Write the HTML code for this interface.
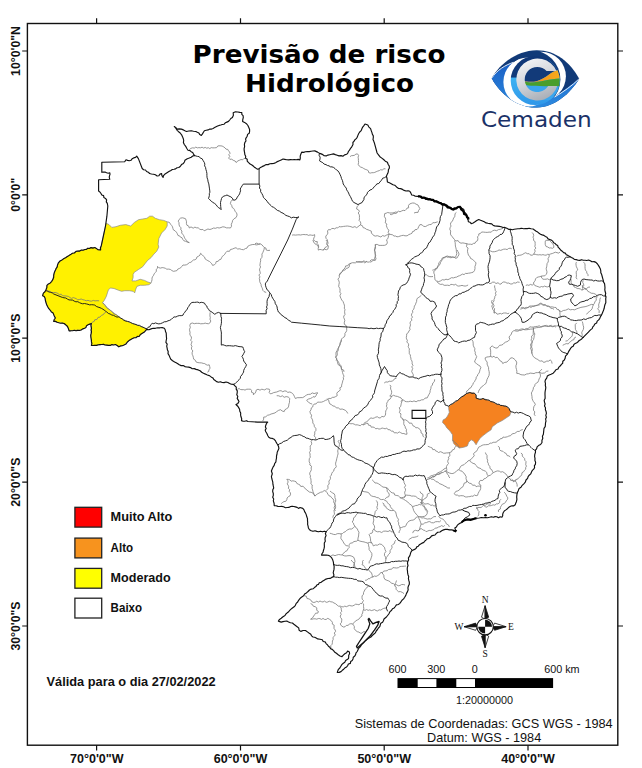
<!DOCTYPE html><html><head><meta charset="utf-8"><title>Previsão de risco Hidrológico</title>
<style>html,body{margin:0;padding:0;background:#fff;}svg{display:block;}</style></head><body>
<svg width="642" height="768" viewBox="0 0 642 768">
<rect width="642" height="768" fill="#fff"/>
<path d="M42.6 295.7 L43.4 293.1 L46.0 289.7 L46.9 285.4 L50.3 282.9 L52.9 279.4 L53.7 275.1 L55.5 270.0 L57.5 265.0 L60.0 261.0 L64.0 258.5 L68.6 255.8 L72.4 253.3 L78.0 251.0 L84.8 249.5 L91.0 247.6 L94.8 247.5 L97.8 249.6 L100.6 249.9 L101.3 245.7 L103.4 235.8 L105.5 226.0 L106.9 216.2 L107.8 206.0 L107.3 203.4 L105.5 198.4 L101.0 193.5 L98.6 191.0 L98.6 179.8 L109.8 179.3 L109.8 172.8 L101.8 172.3 L101.8 162.3 L124.7 161.8 L126.0 159.8 L131.0 160.3 L136.7 156.1 L138.4 158.6 L142.2 168.5 L149.6 173.5 L157.1 176.0 L161.6 173.5 L163.1 177.4 L164.7 174.3 L167.0 172.8 L170.9 170.4 L175.6 168.9 L180.2 166.5 L183.4 163.4 L184.9 160.3 L187.3 158.7 L191.2 157.2 L194.6 155.6 L192.7 152.5 L188.0 150.2 L185.7 146.3 L183.4 142.4 L182.6 136.9 L180.2 133.0 L176.0 128.5 L174.3 126.5 L177.1 129.1 L183.4 129.9 L186.5 131.5 L191.2 130.7 L195.8 131.5 L201.3 135.4 L204.4 130.7 L209.8 129.1 L216.1 126.8 L222.3 124.5 L228.5 121.4 L232.4 117.5 L233.2 112.8 L237.9 112.0 L241.8 112.5 L243.3 117.5 L242.6 121.4 L246.4 123.7 L248.8 127.6 L249.6 131.5 L247.2 136.2 L244.9 142.4 L244.1 148.6 L244.9 154.8 L247.2 161.1 L251.9 165.0 L255.8 168.1 L258.9 168.9 L262.5 166.4 L266.2 164.6 L271.8 163.6 L275.6 162.7 L279.3 160.8 L283.0 159.0 L288.6 159.9 L294.3 159.5 L299.9 159.9 L300.8 154.3 L301.7 152.1 L307.3 151.5 L314.8 150.9 L317.6 152.1 L319.5 153.4 L324.2 155.8 L329.8 154.7 L333.5 153.9 L337.2 155.2 L342.9 156.2 L346.6 154.3 L350.3 148.7 L354.1 141.2 L357.8 135.6 L361.2 130.6 L365.0 124.0 L367.8 125.0 L370.6 128.7 L372.4 134.3 L374.3 142.7 L377.1 153.0 L379.9 156.7 L383.6 159.5 L387.4 162.3 L389.3 166.1 L388.3 171.7 L386.4 176.4 L387.4 182.0 L393.0 184.8 L398.6 188.5 L404.2 190.4 L409.8 191.3 L411.7 195.0 L417.3 196.4 L424.8 197.9 L432.2 199.7 L439.7 202.5 L447.2 205.3 L453.7 210.0 L457.5 207.2 L460.3 206.3 L462.8 208.7 L466.5 214.3 L468.4 221.8 L471.2 223.6 L475.0 221.8 L478.7 219.5 L484.3 221.8 L489.9 223.6 L494.6 225.9 L499.3 226.4 L504.9 227.4 L508.6 229.3 L514.2 229.3 L521.7 228.3 L529.2 228.3 L534.8 230.2 L542.2 234.9 L549.7 239.5 L555.2 243.5 L559.4 248.4 L563.6 252.6 L567.9 255.4 L571.4 257.5 L576.3 259.6 L583.3 260.3 L590.3 260.7 L595.9 262.4 L598.7 265.9 L600.8 270.8 L602.2 276.5 L603.6 282.1 L605.0 287.7 L605.7 293.3 L605.7 298.9 L605.0 304.5 L603.6 310.1 L601.5 315.0 L598.7 319.9 L594.0 325.6 L588.4 332.1 L581.9 338.7 L575.3 343.4 L569.7 349.9 L566.9 354.6 L564.1 360.2 L560.4 365.8 L554.8 371.4 L551.0 374.2 L547.3 376.1 L545.4 379.8 L545.8 387.3 L545.0 394.8 L544.5 402.2 L545.4 409.7 L546.4 417.2 L545.4 424.7 L543.6 432.1 L542.4 436.2 L542.0 442.5 L538.5 445.6 L535.4 450.2 L534.6 456.5 L535.4 464.3 L533.9 468.9 L531.5 472.1 L529.2 475.2 L527.6 478.3 L525.3 482.2 L522.2 485.3 L519.1 488.4 L517.5 492.3 L516.7 497.0 L516.4 501.7 L515.2 504.8 L510.5 506.3 L507.4 508.7 L504.3 511.0 L502.7 514.1 L501.9 517.2 L493.4 517.2 L485.6 517.5 L479.3 518.0 L473.1 518.8 L467.9 519.0 L464.1 520.5 L462.2 522.3 L458.5 524.2 L454.8 527.9 L455.7 530.7 L452.0 529.8 L447.3 529.4 L441.7 530.7 L436.1 533.6 L430.5 537.3 L424.9 541.0 L419.3 544.8 L414.6 549.4 L412.1 550.5 L410.3 554.2 L408.4 557.9 L407.5 563.6 L407.5 571.0 L408.4 578.5 L409.3 582.2 L408.4 586.0 L407.5 591.6 L404.7 597.2 L400.9 601.9 L395.3 606.5 L391.6 610.3 L388.8 614.0 L386.4 617.0 L384.0 619.0 L380.3 624.9 L377.5 629.5 L373.7 634.2 L369.1 637.9 L365.3 640.7 L361.6 644.5 L358.8 648.2 L356.0 652.9 L352.2 660.4 L346.6 666.9 L341.0 671.6 L337.3 672.5 L338.2 669.7 L341.0 666.0 L344.8 662.2 L348.5 658.5 L349.4 652.0 L347.6 651.0 L344.8 653.8 L342.0 656.6 L338.2 654.8 L334.5 652.0 L329.8 647.3 L326.1 643.6 L322.3 639.8 L317.7 638.9 L313.0 637.0 L309.3 633.3 L305.5 630.5 L300.8 631.4 L297.1 626.7 L292.4 623.0 L286.8 621.1 L281.2 622.1 L278.4 621.1 L281.2 618.3 L285.0 615.5 L288.7 611.8 L292.4 608.0 L296.2 603.4 L299.9 598.7 L304.6 594.0 L309.5 590.0 L313.1 588.8 L316.8 585.0 L322.4 581.3 L328.0 578.5 L333.6 576.6 L333.6 571.0 L333.6 564.5 L332.7 559.8 L329.9 556.1 L326.2 555.1 L321.5 555.1 L323.4 550.5 L324.3 544.9 L325.2 537.4 L326.2 531.8 L322.4 531.8 L316.8 531.4 L311.2 530.8 L308.4 528.0 L307.5 520.6 L305.6 513.1 L302.8 508.4 L300.0 507.5 L298.5 508.4 L293.8 506.5 L287.3 507.5 L279.8 506.5 L274.2 505.6 L273.3 500.9 L273.3 493.5 L273.3 486.0 L272.3 480.4 L271.4 476.6 L272.3 473.8 L271.4 471.0 L274.2 465.4 L276.1 459.8 L277.0 454.2 L278.9 448.6 L277.9 444.9 L276.1 442.1 L274.2 439.3 L270.5 438.3 L267.7 435.5 L265.8 431.8 L265.8 425.2 L267.7 422.1 L257.4 422.1 L248.0 421.5 L241.5 420.6 L240.6 415.0 L239.6 409.3 L238.0 406.5 L236.0 404.5 L239.0 401.5 L237.2 398.4 L237.2 392.8 L236.3 387.2 L233.5 384.4 L227.9 382.5 L222.2 382.5 L216.6 381.6 L212.9 377.9 L207.3 375.0 L201.7 372.2 L196.1 369.4 L190.5 367.6 L184.9 366.6 L179.3 364.8 L174.6 362.0 L170.8 359.2 L168.0 353.6 L167.1 347.9 L166.2 340.5 L166.2 333.0 L164.3 328.3 L160.0 327.8 L155.4 328.3 L151.1 328.9 L146.7 329.4 L142.3 333.3 L139.1 336.5 L134.2 337.7 L130.8 339.4 L127.4 342.0 L124.0 345.0 L118.8 346.8 L115.4 344.5 L108.5 345.4 L101.7 344.5 L96.5 345.4 L91.4 345.4 L91.1 338.5 L91.1 330.0 L91.4 323.5 L88.0 324.8 L84.6 328.3 L81.1 330.0 L74.3 330.3 L69.1 330.8 L68.3 328.3 L65.7 324.8 L62.3 323.1 L57.1 322.3 L53.7 321.4 L55.4 318.0 L52.9 312.8 L50.3 310.3 L47.7 306.8 L46.0 302.6 L45.1 298.3 Z" fill="#fff" stroke="none"/>
<path d="M106.2 223.2 L109.0 224.6 L111.8 227.4 L116.0 226.7 L120.2 225.3 L125.8 224.6 L130.7 226.0 L134.3 222.5 L138.5 219.7 L142.7 219.0 L146.9 218.3 L149.7 216.2 L152.5 216.2 L155.3 218.3 L159.5 219.7 L163.7 220.4 L167.2 221.8 L167.2 226.0 L165.1 229.5 L161.6 233.0 L158.8 238.6 L158.1 244.3 L158.8 247.1 L156.7 251.3 L153.9 254.1 L151.1 257.6 L147.6 260.4 L144.8 263.9 L142.7 266.7 L138.5 269.5 L134.3 272.3 L133.1 274.4 L133.1 277.6 L132.0 280.9 L135.8 280.9 L140.2 279.3 L144.5 280.4 L147.8 282.0 L151.1 283.1 L148.9 284.7 L144.5 285.3 L140.2 285.3 L136.9 286.4 L135.8 289.1 L134.7 292.9 L133.1 291.3 L129.3 290.7 L124.9 290.7 L121.6 291.3 L118.4 290.2 L114.0 288.5 L110.7 288.0 L108.5 289.6 L107.4 292.9 L106.4 296.2 L104.2 300.5 L102.5 302.7 L106.4 307.1 L111.8 311.4 L116.2 314.7 L118.4 316.3 L120.5 318.0 L127.4 321.4 L134.2 324.0 L141.1 326.5 L146.7 328.9 L146.7 329.4 L142.3 333.3 L139.1 336.5 L134.2 337.7 L130.8 339.4 L127.4 342.0 L124.0 345.0 L118.8 346.8 L115.4 344.5 L108.5 345.4 L101.7 344.5 L96.5 345.4 L91.4 345.4 L91.1 338.5 L91.1 330.0 L91.4 323.5 L88.0 324.8 L84.6 328.3 L81.1 330.0 L74.3 330.3 L69.1 330.8 L68.3 328.3 L65.7 324.8 L62.3 323.1 L57.1 322.3 L53.7 321.4 L55.4 318.0 L52.9 312.8 L50.3 310.3 L47.7 306.8 L46.0 302.6 L45.1 298.3 L42.6 295.7 L43.4 293.1 L46.0 289.7 L46.9 285.4 L50.3 282.9 L52.9 279.4 L53.7 275.1 L55.5 270.0 L57.5 265.0 L60.0 261.0 L64.0 258.5 L68.6 255.8 L72.4 253.3 L78.0 251.0 L84.8 249.5 L91.0 247.6 L94.8 247.5 L97.8 249.6 L100.6 249.9 L101.3 245.7 L103.4 235.8 L105.5 226.0 Z" fill="#fff100" stroke="#8c8c8c" stroke-width="0.7" stroke-linejoin="round"/>
<path d="M448.7 406.2 L452.5 403.7 L457.4 400.6 L461.8 396.8 L466.2 393.7 L469.9 392.5 L474.3 393.1 L476.1 395.0 L476.1 398.1 L479.9 399.3 L483.0 398.4 L487.4 399.9 L492.3 401.8 L497.3 404.3 L502.3 405.5 L506.0 406.2 L509.2 408.7 L511.0 411.8 L509.8 415.5 L506.0 418.0 L502.3 420.5 L497.3 423.0 L494.8 424.9 L492.3 426.7 L491.1 429.8 L487.4 432.3 L482.4 436.1 L479.9 438.6 L477.4 442.3 L476.1 444.8 L473.6 441.1 L471.2 439.8 L468.7 442.3 L467.4 446.0 L463.7 447.3 L459.9 447.9 L456.2 446.0 L453.7 443.6 L452.5 439.8 L452.5 434.8 L450.0 431.1 L446.9 428.0 L445.0 424.9 L442.5 422.4 L443.1 419.9 L445.6 418.6 L447.5 416.1 L449.3 412.4 L448.7 408.7 Z" fill="#f58220" stroke="#8c8c8c" stroke-width="0.7" stroke-linejoin="round"/>
<path d="M188.0 151.0 L189.4 149.7 L190.8 148.4 L192.7 147.8 L194.3 148.1 L195.8 147.1 L197.4 147.9 L198.9 147.6 L200.5 147.8 L202.1 147.2 L203.6 148.1 L205.2 147.4 L206.7 148.2 L208.3 147.7 L209.8 148.6 L211.2 147.6 L212.9 147.9 L214.5 147.8 L216.5 147.7 L217.9 145.9 L220.0 145.8 L222.1 146.0 L223.9 147.0 L225.1 148.0 L226.1 149.2 L227.8 149.4 L228.5 150.8 L229.5 151.9 L230.1 153.3 L228.8 154.6 L229.8 156.7 L228.5 158.0 L229.8 159.3 L231.8 159.2 L233.2 160.3 L235.1 161.0 L236.3 162.6 L237.5 161.0 L239.3 160.3 L241.0 159.5 L242.7 159.8 L244.0 158.4 L245.7 158.7 M210.1 312.4 L210.0 314.1 L209.9 315.8 L210.3 317.5 L210.0 319.3 L210.8 321.0 L210.1 322.7 L208.6 323.7 L206.9 323.6 L205.2 323.1 L203.6 323.6 L202.1 323.7 L200.6 323.8 L199.1 323.3 L197.6 323.4 L196.1 323.3 L194.3 323.7 L192.3 323.0 L190.5 323.6 L189.8 325.4 L190.3 327.5 L189.5 329.3 L189.7 330.9 L190.1 332.4 L189.8 334.1 L190.4 335.6 L191.4 337.0 L191.4 338.6 L190.6 340.2 L192.0 341.7 L191.5 343.2 L191.0 344.8 L192.0 346.3 L191.4 347.9 L191.7 349.5 L192.8 350.9 L192.1 352.7 L192.2 354.3 L192.9 355.8 L193.3 357.3 L193.7 359.2 L195.4 360.3 L196.1 362.0 L197.9 362.6 L199.8 362.8 L201.7 362.9 L203.2 363.4 L204.7 363.6 L206.1 364.6 L207.5 365.2 L209.2 364.8 L209.7 366.6 L210.1 368.5 L208.9 369.6 L208.8 371.4 L207.3 372.2 M47.0 290.2 L48.5 291.0 L50.1 291.4 L51.6 292.4 L53.2 292.6 L55.0 292.5 L56.6 292.8 L58.0 293.6 L59.3 294.6 L61.2 294.2 L62.3 295.6 L63.9 295.9 L65.5 295.9 L67.1 296.2 L68.6 296.5 L70.0 297.6 L71.5 298.4 L73.3 297.6 L74.8 298.1 L76.3 298.7 L77.7 299.8 L79.4 299.5 L81.2 299.0 L82.8 299.7 L84.6 300.1 L86.2 300.8 L88.0 300.3 L89.7 301.0 L91.4 301.2 L93.3 300.4 L95.0 300.9 L97.0 300.7 L99.1 300.8 M91.4 323.5 L92.4 322.1 L94.2 321.4 L94.8 319.7 L96.9 319.5 L98.0 317.4 L100.0 317.1 L101.4 315.4 L103.4 314.6 L104.4 313.0 L106.0 312.0 M350.0 156.7 L351.3 155.7 L353.0 155.6 L354.6 155.2 L355.9 154.1 L357.5 153.9 L358.6 155.4 L358.1 157.2 L358.4 158.8 L358.4 160.5 L358.6 162.4 L358.2 164.4 L359.3 166.1 L360.7 167.1 L362.3 167.6 L363.7 168.5 L365.2 169.3 L366.8 169.8 L368.4 170.8 L368.7 172.6 L370.3 173.1 L371.8 172.7 L373.3 172.7 L374.8 172.4 L376.2 171.7 L377.7 171.1 L379.3 170.6 L380.7 169.7 L382.5 170.1 L383.7 168.7 L385.5 168.9 M167.5 221.8 L169.5 222.5 L170.6 224.3 L171.7 225.5 L172.5 226.8 L172.9 228.4 L173.4 229.9 L175.1 230.8 L176.4 232.2 L177.3 233.7 L178.0 235.5 L179.6 235.9 L180.5 237.2 L182.0 237.7 L182.7 239.3 L183.9 240.8 L185.7 241.3 L187.4 242.1 L189.3 242.6 M189.3 242.6 L187.5 241.9 L186.4 240.2 L185.1 238.8 L184.3 237.2 L183.6 235.5 L182.7 234.2 L181.6 233.0 L182.0 231.0 L180.8 229.9 L181.0 227.8 L179.5 226.2 L179.0 224.3 L179.0 222.7 L178.3 221.2 L179.0 219.6 L180.6 218.1 L182.7 217.8 L185.5 218.7 L186.1 220.2 L186.5 221.8 L186.4 223.4 L186.9 225.2 L188.8 226.2 L189.3 228.0 L191.0 226.9 L193.2 228.2 L194.9 227.1 L196.4 227.8 L198.2 227.8 L199.5 229.0 L201.0 229.7 L202.9 229.4 L204.2 230.8 L206.1 229.9 L207.9 229.0 L209.9 229.5 L211.8 228.9 L213.6 228.0 L215.5 228.3 L217.3 227.6 L219.2 228.0 L221.0 227.5 L222.8 226.8 L224.8 227.1 L226.6 227.9 L228.5 227.8 L230.4 228.0 L231.5 226.3 L231.3 224.2 L232.2 222.4 L232.7 220.3 L234.1 218.7 L235.9 217.7 L236.9 215.9 L237.0 214.0 L236.2 212.5 L235.0 211.2 L234.5 209.7 L233.6 208.4 L232.2 207.5 L231.7 205.4 L230.4 203.7 L230.9 201.6 L232.2 200.0 L233.2 200.0 M151.0 282.9 L151.6 281.4 L152.0 279.8 L152.0 278.1 L152.6 276.6 L153.6 275.3 L154.2 273.7 L155.4 272.5 L156.4 271.2 L156.2 269.4 L157.6 268.2 L157.5 266.4 L158.8 267.7 L160.4 268.1 L162.2 267.6 L163.8 267.8 L165.4 268.3 L166.8 269.2 L168.6 269.1 L170.3 269.4 L171.8 270.5 L173.4 271.3 L175.2 271.0 L176.9 270.6 L177.8 269.1 L179.3 268.5 L180.8 267.7 L181.8 266.4 L183.0 265.0 L184.9 265.1 L186.6 264.7 L188.0 263.8 L189.3 262.6 L190.9 262.3 L192.1 261.2 L193.3 260.0 L194.9 259.8 L196.4 258.8 L196.9 257.0 L198.6 256.2 L200.0 255.1 L200.5 253.3 L202.0 254.6 L203.3 256.1 L204.6 257.1 L205.1 258.9 L206.5 259.8 L207.9 260.7 L209.5 261.5 L210.7 262.6 L211.8 263.8 L212.6 265.4 L214.4 264.8 L215.6 263.6 L216.2 261.6 L218.2 261.3 L219.2 259.8 L220.9 259.3 L221.6 257.7 L222.4 256.3 L223.7 255.4 L224.8 254.2 L225.8 252.5 L227.1 251.2 L229.5 251.3 L230.4 249.5 L232.3 249.1 L234.1 248.3 L236.0 247.7 L237.6 249.0 L239.8 248.8 L241.6 249.5 L243.6 249.7 L245.3 248.6 L247.0 248.1 L247.8 246.3 L249.3 245.5 L250.9 244.9 L252.8 244.5 L254.6 244.5 L256.5 244.9 L258.4 244.5 L260.3 243.9 L261.9 244.8 L263.1 246.2 L264.3 247.5 L265.9 248.0 L266.2 250.0 L267.8 250.5 L270.0 250.3 M264.3 247.5 L264.1 249.3 L263.5 250.9 L262.8 252.6 L261.9 254.1 L262.1 256.0 L261.8 257.6 L260.5 259.0 L260.7 260.8 L260.3 262.4 L260.1 263.9 L259.9 265.4 L260.6 267.0 L259.8 268.4 L259.5 269.9 L260.0 271.6 L260.3 273.4 L258.9 275.0 L259.9 276.8 L259.3 278.5 L259.7 280.0 L259.7 281.6 L260.3 283.0 L261.1 284.4 L261.2 286.0 L261.9 287.4 L262.5 288.8 L262.9 290.4 L264.0 291.6 L266.2 292.5 M255.0 243.7 L256.8 243.1 L258.5 243.9 L260.3 243.9 M102.5 302.7 L104.1 303.9 L105.4 305.4 L106.4 307.1 L107.5 308.5 L109.1 309.3 L110.4 310.4 L111.8 311.4 L113.0 312.9 L114.3 314.2 L116.2 314.7 L118.4 316.3 M292.1 235.1 L293.8 234.9 L295.5 235.1 L297.3 234.9 L299.0 234.8 L300.7 235.0 L302.4 234.6 L303.9 234.5 L305.4 234.7 L307.0 234.6 L308.5 235.4 L310.0 234.9 L311.6 235.2 L313.1 235.4 L314.6 234.6 L314.7 236.4 L313.8 238.0 L313.6 239.8 L315.2 241.4 L317.4 241.7 L317.0 243.4 L318.4 245.0 L318.6 246.7 L318.2 248.4 L318.3 250.1 L319.9 249.4 L321.4 249.7 L323.0 250.1 L324.4 249.1 L326.2 249.8 L327.7 249.2 L328.2 247.7 L328.4 246.2 L327.1 244.7 L328.1 243.2 L327.7 241.7 L327.3 239.7 L325.9 238.2 L325.8 236.1 L327.1 234.7 L327.9 233.1 L327.5 231.0 L328.6 229.5 L330.3 229.9 L331.6 228.6 L333.1 228.4 L334.8 228.9 L336.1 227.7 L337.7 228.0 L339.0 226.6 L340.6 226.8 L342.1 226.7 L343.6 226.4 L345.5 226.2 L347.3 226.0 L349.2 226.3 L351.0 226.7 L352.8 227.4 L354.9 226.6 L356.6 227.7 L357.9 226.8 L359.1 225.8 L360.4 224.9 L362.4 225.7 L363.2 227.7 L364.9 228.1 L366.4 229.3 L368.1 229.8 L369.7 230.5 L371.3 231.1 L371.4 233.3 L372.7 234.2 L373.6 235.5 L375.3 236.1 L377.3 235.7 L379.1 236.3 L380.9 237.0 L382.5 235.6 L384.8 236.2 L386.5 235.1 L389.3 234.2 L391.0 234.5 L392.7 234.9 L394.0 236.1 L395.5 236.0 L397.0 236.8 L398.5 236.6 L400.0 236.1 L401.6 235.6 L403.3 235.3 L405.0 235.8 L407.1 235.8 L408.8 234.6 L410.6 233.9 L412.0 233.2 L412.6 231.5 L414.3 231.1 L415.1 229.6 L417.0 229.5 L418.0 228.3 L418.8 226.4 L419.9 224.6 L422.1 224.8 L423.6 226.4 L425.7 226.5 L427.5 225.4 L429.3 224.6 L431.3 224.5 L432.8 222.7 L434.9 222.7 L437.7 221.8 M358.5 205.2 L357.0 206.8 L356.6 209.0 L358.5 209.9 L359.4 211.3 L358.2 213.0 L359.1 214.4 L359.5 215.9 L359.4 217.4 L359.5 218.9 L359.1 220.5 L360.4 221.8 L360.8 223.3 L360.4 224.9 M389.3 234.2 L388.6 235.6 L388.3 237.2 L387.8 238.7 L386.5 239.8 L387.1 241.4 L387.3 242.9 L386.5 244.5 L384.7 245.3 L382.8 245.4 L380.9 245.4 L379.0 245.4 L377.2 244.4 L375.3 244.5 L375.4 246.4 L374.7 248.2 L374.4 250.1 L375.1 251.8 L375.0 253.5 L375.7 255.2 L375.4 256.9 L376.0 258.6 L375.3 260.4 L373.7 260.4 L372.3 261.0 L371.0 262.0 L369.4 261.9 L367.9 262.2 L366.3 261.5 L364.8 262.9 L363.2 261.7 L361.6 262.3 L360.1 262.2 L358.5 262.2 L356.9 261.8 L355.5 262.8 L354.0 262.8 L352.5 262.7 L351.0 263.2 L349.4 264.7 L349.2 266.9 L348.1 268.0 L346.3 268.3 L345.4 269.7 L343.8 270.4 L342.5 271.4 L341.3 272.7 L339.8 273.5 L339.4 275.4 L339.3 277.5 L337.9 279.1 L338.9 280.9 L339.3 282.7 L338.9 284.7 L338.7 286.6 L339.8 288.3 L340.1 290.2 L339.8 292.1 L340.9 293.5 L340.0 295.4 L340.3 297.0 L341.0 298.5 L341.7 300.0 L343.1 301.6 L343.8 303.6 L344.4 305.1 L344.5 306.7 L344.3 308.2 L345.0 309.7 L344.6 311.3 L344.7 312.9 L345.0 314.5 L343.8 316.0 L343.7 317.5 L344.4 319.1 L344.8 320.7 L344.3 322.2 L344.3 324.3 L346.1 325.5 L346.6 327.4 M384.7 213.6 L386.2 213.2 L387.7 212.5 L389.3 212.9 L390.9 213.0 L392.5 212.9 L394.0 212.7 L395.4 212.0 L397.0 212.3 L398.4 211.2 L400.0 211.8 L401.6 211.0 L403.2 210.3 L405.0 210.6 L406.1 209.5 L407.0 208.1 L408.7 207.8 L408.4 205.7 L409.6 204.0 L411.1 203.4 L412.6 203.0 L414.3 203.1 L416.1 204.2 L418.0 205.0 L418.9 206.9 L419.9 208.7 L418.6 210.4 L418.0 212.4 L416.0 212.4 L414.0 213.0 M384.7 213.6 L384.5 215.1 L384.4 216.7 L385.4 218.1 L385.7 219.6 L385.6 221.1 L385.2 222.8 L386.9 224.0 L386.4 225.7 L386.9 227.2 L387.5 228.6 L388.8 230.2 L388.2 232.5 L389.3 234.2 M390.0 214.3 L391.7 214.6 L393.1 213.7 L394.6 213.5 L396.1 213.3 L397.5 212.4 M370.0 260.9 L371.4 259.8 L373.1 259.9 L374.7 259.3 L374.7 257.8 L375.3 256.2 L375.2 254.7 L375.3 253.1 L374.8 251.6 L374.7 250.0 L375.6 248.2 L375.4 246.4 L375.3 244.5 M312.9 240.0 L313.6 242.0 L314.8 243.7 L316.4 244.6 L317.9 245.7 L318.6 247.5 M323.0 250.1 L324.2 249.3 L325.0 247.6 L326.5 246.7 L327.9 245.6 L326.6 243.9 L327.2 241.7 L326.0 240.0 M339.1 275.5 L340.1 274.2 L341.2 272.8 L342.1 271.4 L342.9 269.9 L344.2 269.0 L345.1 267.6 L345.7 265.9 L347.7 265.8 L348.5 264.3 L351.0 263.2 M355.9 261.5 L357.5 261.9 L359.1 261.5 L360.7 261.6 L362.3 261.8 L363.9 260.8 L365.5 261.9 L367.1 261.5 M346.6 327.4 L346.7 329.0 L346.7 330.6 L346.0 332.0 L344.9 333.4 L345.0 335.0 L344.5 336.7 L342.8 337.7 L341.5 339.0 L341.2 340.9 L340.3 342.4 L340.1 343.9 L339.6 345.4 L338.9 346.8 L338.3 348.3 L338.4 349.9 L337.7 351.3 L337.1 352.8 L337.4 354.7 L336.7 356.1 L335.6 357.4 L336.6 358.8 L336.3 360.5 L337.6 361.8 L337.7 363.4 L338.4 364.9 L340.0 365.8 L340.9 367.3 L341.5 368.9 L342.1 370.5 L342.5 372.5 L343.1 374.3 L344.0 376.1 L343.3 377.5 L343.6 379.2 L342.8 380.6 L342.5 382.1 L342.1 383.6 L341.6 385.1 L341.6 386.8 L339.8 387.8 L340.3 389.7 L339.3 391.0 L337.7 392.0 L336.8 393.4 L337.2 395.7 L335.6 396.6 L334.1 397.3 L332.3 397.4 L330.9 398.5 L328.8 398.4 L327.2 399.8 L325.3 400.4 L323.6 401.4 L321.7 402.1 L319.7 402.2 L317.6 402.1 L316.1 403.9 L314.1 404.1 L313.1 405.3 L312.7 407.0 L311.3 407.9 L311.0 409.8 L309.9 411.5 L310.4 413.5 L311.6 415.2 L311.1 417.4 L312.2 419.1 L312.8 421.0 L312.8 423.0 L314.1 424.7 L314.4 426.7 L315.8 428.3 L316.0 430.3 L314.7 431.9 L314.8 434.0 L314.1 435.9 L315.6 437.5 L315.5 439.6 M237.5 389.2 L239.1 388.5 L240.5 389.5 L242.0 389.7 L243.5 389.6 L245.0 390.1 L246.8 389.2 L248.7 389.2 L250.6 389.2 L251.6 390.5 L251.5 392.3 L253.5 393.0 L253.4 394.8 L254.7 393.5 L255.8 392.0 L256.2 390.1 L258.0 389.2 L260.0 390.2 L261.8 389.2 L263.3 389.6 L264.8 389.9 L266.3 388.8 L267.8 389.0 L269.3 389.2 L269.8 390.7 L269.1 392.4 L270.2 393.8 L271.9 393.5 L273.4 392.7 L275.0 392.3 L276.7 392.0 L278.1 391.4 L279.6 390.8 L281.1 390.7 L282.8 391.8 L284.2 391.0 L286.1 391.0 L287.8 392.4 L289.8 392.0 L291.3 392.6 L292.6 393.5 L293.6 394.8 L294.5 396.7 L295.4 398.5 L297.2 397.7 L299.1 397.7 L301.0 397.6 L302.7 397.6 L304.1 396.8 L305.4 396.0 L306.6 394.8 L308.5 394.4 L310.6 394.2 L312.2 392.9 L314.1 393.6 L316.0 393.0 L317.9 392.9 L316.6 394.1 L316.0 395.7 L314.9 397.1 L313.0 396.7 L311.8 397.9 L310.4 398.5 L308.3 399.1 L306.6 400.4 L308.5 402.2 L310.2 403.4 L312.2 404.1 M276.7 395.7 L278.7 395.8 L280.5 396.6 L282.4 395.8 L284.2 397.3 L286.1 396.6 L288.2 397.0 L289.8 398.5 L289.5 400.4 L289.5 402.3 L288.9 404.1 L288.7 406.1 L287.9 407.9 L286.4 408.8 L284.9 409.8 L284.2 411.6 L282.2 411.0 L280.5 409.7 L278.5 410.4 L276.7 411.6 L275.0 412.9 L273.0 413.5 L271.1 414.0 L269.3 414.9 L267.4 415.3 L265.8 416.8 L263.6 417.2 L263.7 419.2 L262.7 421.0 M327.2 398.5 L328.6 400.1 L329.1 402.2 L329.8 403.9 L331.6 404.7 L332.8 406.0 L334.8 406.2 L336.3 407.9 L338.4 407.9 L340.0 409.3 L342.2 409.0 L344.0 409.7 L345.7 410.5 L346.9 411.9 L347.8 413.5 M341.2 340.0 L341.2 341.8 L340.2 343.2 L340.0 344.9 L339.1 346.4 L338.5 347.9 L337.5 349.3 L337.0 350.8 L336.1 352.1 L335.9 353.7 L336.1 355.3 L335.6 356.8 L336.5 358.2 L337.0 359.8 L338.0 361.2 L338.8 362.7 L339.3 364.3 L340.9 365.4 L341.5 367.1 L341.4 369.2 L343.6 370.0 L344.0 371.8 M421.4 295.2 L420.2 296.3 L418.9 297.3 L417.4 298.2 L416.7 299.8 L416.6 301.5 L415.9 303.1 L415.4 304.7 L414.4 306.1 L414.2 307.7 L413.7 309.2 L412.5 310.6 L412.8 312.3 L411.8 313.7 L411.4 315.3 L412.5 317.1 L411.3 318.5 L411.9 320.2 L410.5 321.6 L410.0 323.1 L410.5 324.8 L410.1 326.4 L409.6 327.9 L410.1 329.7 L408.9 331.0 L408.3 332.6 L406.7 333.8 L406.6 335.7 L406.3 337.3 L406.5 338.9 L407.4 340.3 L406.8 342.0 L408.2 343.4 L408.7 344.9 L408.2 346.6 L408.5 347.5 L409.4 348.9 L409.2 350.5 L409.3 352.1 L409.3 353.7 L410.4 355.0 L410.4 356.6 L410.9 358.0 L411.0 359.5 L411.9 360.9 L412.2 362.4 L412.1 363.9 L413.0 365.4 L411.7 366.9 L412.7 368.4 L412.2 369.9 L411.7 371.6 L412.5 373.2 L413.3 374.7 L413.2 376.4 M384.2 383.0 L385.9 381.9 L387.9 382.1 L389.2 381.2 L390.8 381.4 L392.3 381.0 L393.6 380.2 L394.6 378.7 L396.4 378.3 M389.8 384.9 L390.9 386.2 L390.5 387.9 L390.8 389.4 L391.5 390.8 L391.7 392.3 L391.2 394.4 L389.8 396.1 L391.7 396.3 L393.5 395.3 L395.4 396.1 L397.4 396.4 L399.2 397.2 L401.0 397.9 L402.0 399.5 L403.7 400.0 L404.8 401.3 L406.6 401.7 L408.5 401.7 L410.3 401.2 L412.2 401.7 L414.0 400.9 L416.1 401.8 L417.9 400.7 L419.8 400.7 L421.6 399.8 L423.5 399.8 L425.0 398.1 L427.2 397.9 L428.1 396.0 L429.1 394.2 L430.0 392.4 L430.2 390.4 L430.9 388.6 L431.1 386.6 L432.4 385.0 L432.8 383.0 L434.4 381.5 L434.7 379.3 M391.7 396.1 L390.9 397.7 L390.0 399.2 L388.3 400.0 L387.7 401.7 L386.7 403.1 L386.8 404.7 L386.4 406.2 L387.2 407.8 L386.7 409.3 L385.8 410.8 L385.6 412.4 L385.6 414.0 L385.2 415.6 L383.9 416.8 L381.7 416.4 L380.5 417.9 L378.9 417.9 L377.5 416.8 L375.8 417.1 L374.4 417.9 L372.8 418.4 L371.0 417.9 L369.6 418.7 L368.3 420.5 L366.5 421.8 L364.4 422.8 L363.4 424.9 M349.3 423.4 L350.9 423.8 L352.6 423.6 L354.1 424.1 L355.6 424.9 L357.2 424.8 L358.7 425.2 L360.3 425.7 L361.8 424.3 L363.4 424.9 L364.9 424.2 L366.3 423.4 L368.0 423.4 L368.5 425.2 L370.6 425.5 L371.2 427.2 L373.0 427.0 L374.5 427.6 L375.8 428.8 L377.4 428.4 L379.0 429.1 L380.6 428.8 L382.1 428.0 L383.6 428.4 L385.2 428.8 L386.7 428.0 L387.9 429.6 L390.0 429.8 L391.4 431.1 L393.1 431.1 L394.3 432.9 L396.1 432.7 L397.6 433.1 L399.2 431.9 L400.7 432.7 L402.2 433.5 L403.9 433.5 L405.4 434.2 L407.0 434.2 M401.0 401.7 L402.3 400.0 L401.9 401.6 L401.3 403.2 L401.0 404.9 L400.6 406.6 L399.2 407.8 L399.9 409.3 L400.0 410.9 L399.3 412.6 L401.0 413.9 L400.7 415.6 L400.8 417.5 L402.7 418.5 L403.3 420.1 L403.9 421.8 L403.7 423.5 L404.1 425.0 L405.1 426.4 L405.4 428.0 L406.5 429.4 L406.2 431.1 L406.8 432.6 L407.0 434.2 M402.3 418.7 L403.5 420.1 L405.6 419.8 L407.1 420.8 L408.5 421.8 L409.4 423.3 L411.5 423.0 L412.4 424.5 L413.2 426.0 L414.8 426.5 L415.8 427.8 L417.7 427.7 L419.0 428.6 L420.2 429.6 L421.0 431.1 L421.1 433.0 L422.9 434.1 L422.9 436.0 L424.1 437.4 M312.1 440.0 L311.1 441.4 L311.7 443.2 L311.5 444.7 L310.1 446.0 L310.3 447.7 L310.2 449.3 L310.5 450.9 L309.5 452.4 L310.1 454.0 L310.0 455.6 L310.3 457.2 L309.3 458.7 L309.2 460.3 L309.2 461.9 L310.0 463.4 L309.8 465.0 L311.6 466.3 L311.1 468.0 L311.4 469.6 L310.8 471.1 L309.9 472.6 L309.7 474.2 L310.5 475.9 L310.2 477.4 L310.9 478.9 L311.0 480.5 L311.2 482.0 L310.8 483.7 L312.3 485.0 L312.1 486.7 L312.1 488.4 L312.6 489.9 L313.0 491.6 L313.5 493.1 L314.3 494.6 L314.9 496.1 L316.1 494.9 L317.5 493.9 L319.0 493.1 L320.5 492.3 L322.6 491.8 L324.2 490.5 L325.9 491.2 L327.0 492.6 L327.9 494.2 L328.9 495.7 L330.7 496.4 L331.7 497.9 L333.1 499.0 L333.8 500.4 L333.7 502.2 L334.5 503.6 L335.0 505.4 L334.1 507.4 L334.5 509.2 L335.4 511.0 M339.2 440.0 L338.2 441.5 L339.3 443.1 L339.4 444.7 L339.2 446.3 L338.4 447.8 L338.2 449.3 L337.7 450.8 L337.9 452.3 L338.1 453.9 L337.6 455.3 L337.3 456.8 L336.8 458.4 L336.5 460.0 L336.1 461.5 L335.6 463.1 L335.7 464.8 L336.3 466.5 L335.4 468.0 L334.0 469.1 L333.8 471.0 L332.5 472.1 L331.7 473.6 L331.3 475.2 L330.2 476.5 L330.5 478.3 L329.9 479.8 L328.9 481.1 L329.1 482.7 L329.1 484.2 L327.7 485.5 L328.0 487.1 L327.9 488.6 L326.1 490.5 M286.8 479.3 L288.4 479.4 L289.8 479.8 L291.1 481.2 L292.8 480.8 L294.3 481.1 L296.0 481.7 L296.8 483.4 L298.4 484.2 L299.9 484.9 L300.8 486.5 L303.1 486.2 L304.1 487.6 L305.5 488.6 L306.6 490.0 L308.0 490.9 L309.3 492.0 L311.1 492.3 L312.9 493.0 L313.9 494.6 L314.9 496.1 M286.8 479.3 L287.8 480.6 L288.1 482.1 L287.2 483.9 L288.2 485.3 L288.7 486.7 L288.4 488.4 L289.7 489.6 L289.2 491.4 L290.3 492.7 L290.6 494.2 L290.0 495.8 L288.3 496.7 L287.1 498.0 L286.8 499.8 L285.8 501.3 L283.9 501.6 L282.5 502.5 L281.2 503.6 M357.9 512.2 L357.2 513.9 L355.9 515.1 L355.2 516.8 L353.6 517.8 L353.4 520.1 L352.2 522.0 L353.5 523.2 L353.9 524.9 L355.0 526.2 L355.8 527.7 L357.3 528.7 L357.9 530.4 L359.0 532.2 L358.7 534.1 L358.6 536.0 L358.0 538.1 L357.9 540.2 L356.6 541.2 L355.1 541.4 L353.6 541.6 L352.5 543.0 L350.5 543.0 L349.4 544.4 L348.9 545.8 L349.2 547.5 L348.0 548.7 L347.1 550.6 L345.2 551.5 L343.9 553.0 L342.4 554.3 L342.4 555.0 M329.8 533.2 L331.6 533.7 L333.5 534.4 L335.4 534.6 L337.2 533.7 L339.1 533.6 L341.0 533.9 L342.5 533.5 L343.7 532.4 L345.2 531.8 L346.4 530.6 L347.8 529.7 L349.4 529.0 L351.7 529.0 L353.6 527.6 L355.0 526.2 M341.0 533.9 L341.3 535.5 L340.9 537.2 L341.0 538.8 L342.1 540.1 L343.0 541.5 L343.8 543.0 L344.8 544.5 L346.1 545.6 L348.0 545.9 M373.3 516.4 L373.5 518.3 L373.8 520.1 L373.3 522.0 L373.1 523.8 L374.2 525.4 L374.7 527.2 L374.0 529.0 L372.7 530.1 L372.7 531.9 L371.9 533.2 L370.3 533.4 L369.1 534.6 L370.0 536.6 L370.5 538.8 L370.6 541.1 L371.9 543.0 L372.7 544.4 L373.3 545.9 L375.3 545.0 L377.5 545.2 L379.4 544.0 L381.7 544.4 L383.0 545.9 L384.5 547.3 L385.0 549.5 L385.9 551.5 L384.5 553.4 L384.5 555.7 L385.8 557.2 L385.9 559.2 L385.5 561.8 M357.9 540.2 L359.9 541.1 L362.1 541.6 L364.0 541.9 L365.8 542.5 L367.7 543.0 L369.8 542.4 L371.9 543.0 M367.7 543.0 L368.5 544.3 L368.6 545.9 L369.1 547.3 L369.1 549.6 L370.5 551.5 L371.8 553.4 L371.9 555.7 L371.2 557.8 L370.5 559.9 L369.3 561.5 L369.1 563.4 M374.0 529.0 L375.3 531.0 L377.5 531.8 L379.7 531.6 L381.7 532.5 L383.6 531.2 L385.9 531.1 L388.1 531.5 L390.1 530.4 L391.1 531.8 L392.9 531.8 M395.7 540.2 L394.8 541.6 L394.5 543.4 L392.9 544.4 L391.7 545.6 L392.1 547.3 L391.5 548.7 L390.1 550.6 L390.1 552.9 L388.5 554.5 L387.3 556.4 L386.1 557.6 L385.9 559.2 M331.2 555.7 L333.0 554.9 L335.0 555.7 L336.8 555.0 L338.7 554.5 L340.5 554.8 L342.4 555.0 L344.2 555.8 L346.1 556.0 L348.0 555.7 L350.0 555.6 L351.8 556.2 L353.6 557.1 L354.5 559.1 L355.0 561.3 L354.3 563.4 L353.6 565.5 L354.0 567.0 M372.1 479.8 L373.7 481.3 L375.0 483.0 L376.9 483.0 L378.5 483.8 L380.0 484.8 L381.5 486.0 L383.0 487.1 L385.0 487.3 L387.3 487.9 L388.7 489.8 L389.9 490.9 L390.9 492.2 L392.4 492.9 L394.1 493.1 L394.6 495.0 L396.2 495.4 L398.3 495.8 L399.9 497.3 L401.7 498.4 L403.6 499.2 L405.5 500.5 L407.4 501.6 L408.5 503.0 L409.9 504.1 L411.4 505.1 L412.4 506.6 L413.1 508.5 L413.6 510.4 L414.7 512.3 L416.1 514.1 L417.4 515.3 L418.6 516.6 L418.9 518.5 L419.8 520.3 L420.5 522.2 L421.1 524.1 L420.5 526.0 L419.8 527.8 L419.6 529.8 L418.0 531.0 M362.2 491.0 L364.1 491.7 L366.0 491.9 L367.9 492.4 L369.3 493.3 L370.0 494.8 L371.5 495.9 L373.2 496.5 L375.0 496.7 L376.7 497.5 L378.6 497.9 L380.0 499.2 L381.7 499.6 L383.5 499.4 L385.0 500.4 L386.7 501.2 L387.6 502.8 L388.7 504.1 L390.1 505.0 L390.4 506.6 L391.2 507.9 L392.4 509.2 L393.7 510.4 L395.6 511.8 L396.2 514.1 L396.6 516.0 L397.4 517.8 L398.5 519.3 L397.9 521.2 L398.7 522.8 L398.6 524.6 L399.5 526.1 L399.9 527.8 L400.3 529.7 L399.3 531.3 L399.0 533.0 M386.2 487.9 L387.2 489.5 L387.2 491.6 L388.7 492.9 L389.3 494.8 L388.7 496.7 L386.5 497.4 L385.0 499.2 M403.6 478.0 L403.1 479.7 L403.9 481.2 L404.1 482.8 L404.9 484.2 L405.6 485.7 L404.4 487.4 L405.4 488.8 L405.5 490.4 L404.7 492.1 L404.8 493.7 L405.5 495.4 L405.0 497.0 L403.6 497.9 M399.9 497.9 L401.7 497.7 L403.5 497.3 L404.9 496.0 L406.5 495.1 L408.2 495.3 L409.9 495.4 L411.7 496.1 L413.6 496.0 L415.8 496.4 L417.4 497.9 L419.8 499.2 L421.6 500.2 L423.6 499.8 L424.6 498.5 L426.1 497.9 L427.2 496.2 L427.3 494.2 L429.8 492.9 M422.3 499.8 L422.3 501.6 L421.1 502.9 L422.3 505.4 L423.5 506.7 L424.8 507.9 L425.5 510.1 L427.3 511.6 L427.2 513.6 L426.1 515.4 L424.3 516.4 L422.3 516.6 L419.8 517.0 M412.4 506.6 L414.1 506.2 L415.7 505.5 L417.4 505.4 L419.2 504.4 L421.1 505.0 M376.2 500.4 L377.2 501.9 L377.6 503.6 L377.5 505.4 L376.8 507.2 L377.5 509.1 L376.4 510.2 L375.3 511.3 L375.0 512.9 L374.5 515.5 M382.5 502.9 L383.9 503.8 L384.0 505.7 L385.8 506.3 L386.2 507.9 L388.0 509.2 L389.9 510.4 L391.8 510.6 L393.7 510.4 M418.6 516.6 L420.3 516.8 L421.8 518.0 L423.6 517.8 L425.4 518.5 L427.3 519.1 L429.0 518.8 L430.8 518.9 L432.3 517.8 L433.9 516.6 L436.0 516.6 M421.1 524.1 L423.2 524.2 L424.8 522.8 L426.5 522.6 L428.1 521.8 L429.8 521.6 L431.5 522.7 L433.6 522.8 L435.3 521.8 L437.3 521.6 L439.4 521.8 L441.0 520.5 M399.9 527.8 L401.6 527.5 L403.2 526.8 L404.9 526.6 L406.1 525.6 L406.5 524.0 L407.4 522.8 L408.9 521.1 L411.1 520.3 L413.1 520.1 L414.9 519.1 L416.3 517.2 L418.6 516.6 M427.3 478.0 L429.2 477.7 L430.4 476.0 L432.3 475.5 L434.1 474.9 L436.0 474.6 L437.3 473.0 L439.0 472.3 L440.8 471.6 L442.3 470.5 L444.0 469.0 L446.0 468.0 M431.1 479.2 L433.1 479.3 L434.7 480.2 L436.0 481.7 L437.9 482.0 L439.2 483.5 L441.0 484.2 L442.7 484.9 L444.3 485.9 L446.0 486.7 L447.8 488.0 L450.0 488.0 M444.8 470.5 L446.6 472.0 L447.3 474.2 L448.6 475.2 L448.9 476.9 L450.0 478.0 M412.7 533.1 L413.5 531.1 L415.5 530.3 L418.0 531.0 L420.0 528.9 L421.9 528.8 L423.2 530.1 L424.9 530.4 L426.1 531.7 L427.6 531.1 L429.1 530.4 L430.8 530.6 L432.3 530.1 L433.9 529.5 L435.2 528.1 L437.0 528.0 L438.5 527.0 L440.1 526.6 L441.5 525.6 L443.4 526.5 L444.8 525.4 M408.5 540.1 L409.7 539.0 L411.0 538.2 L412.4 537.4 L414.1 537.3 L416.3 536.8 L418.3 535.9 M438.5 516.1 L439.7 517.7 L441.4 518.6 L443.2 519.2 L444.4 520.7 L445.6 522.1 L446.3 523.9 L448.4 524.9 L449.4 527.0 M330.0 491.0 L331.3 492.1 L332.7 493.0 L334.2 493.8 L334.9 495.6 L334.9 497.6 L335.6 499.4 L335.7 501.2 L334.9 502.9 L335.2 504.7 L335.6 506.5 L335.5 508.5 L334.0 510.1 L334.2 512.1 L334.5 514.2 L333.2 515.8 L332.8 517.7 M427.8 446.2 L429.2 446.8 L430.6 447.4 L432.1 447.9 L432.8 449.7 L434.7 449.4 L435.6 450.9 L437.1 451.4 L438.5 452.5 L440.5 451.7 L442.0 452.3 L443.4 453.2 L445.0 453.2 L446.5 452.9 L448.1 452.9 L449.6 452.5 L451.5 451.9 L452.4 449.9 L454.3 449.3 L454.8 447.6 L455.8 446.2 M449.6 452.5 L449.7 454.1 L450.0 455.7 L448.3 457.1 L448.8 458.7 L448.0 460.1 L447.7 461.7 L448.5 463.5 L447.3 464.9 L446.5 466.4 L446.5 468.0 L446.8 469.6 L446.5 471.2 L444.8 471.3 L443.4 472.3 L441.8 472.7 L440.4 473.7 L438.9 474.4 L437.1 474.3 L435.8 475.5 L434.4 476.5 L432.5 476.6 L431.1 478.0 L429.3 478.9 L426.5 479.8 M446.5 471.2 L447.9 472.3 L449.5 473.0 L451.2 473.5 L452.9 473.5 L454.4 472.8 L455.8 471.9 L457.1 470.4 L458.9 469.6 L459.8 468.1 L460.5 466.5 L462.0 465.4 L463.9 464.8 L465.2 463.4 L466.8 462.4 L468.0 460.9 L469.8 460.2 L471.6 458.8 L473.0 457.1 L474.3 455.8 L473.5 453.9 L474.5 452.5 L476.5 451.3 L477.6 449.3 L478.6 447.2 L480.7 446.2 L482.1 445.3 L483.7 444.8 L485.4 444.7 L487.1 444.6 L488.8 444.3 L490.1 443.1 L491.7 443.2 L493.2 442.3 L494.8 442.3 L496.6 442.1 L497.7 440.5 L499.4 440.0 L500.3 438.7 L502.2 438.5 L503.0 437.0 L504.5 437.3 L506.0 437.1 L507.5 436.7 L508.9 436.0 L510.6 435.7 L511.6 434.3 L513.0 433.6 L514.7 433.4 L516.0 432.5 L517.2 431.5 L519.3 431.4 L520.9 430.1 L522.8 429.6 M458.9 469.6 L460.3 470.7 L462.1 471.2 L463.0 472.5 L464.4 473.5 L465.2 475.0 L466.2 476.7 L466.0 478.7 L466.7 480.5 L466.3 482.5 L464.1 483.2 L463.6 485.2 L462.5 487.2 L460.5 488.3 L459.4 490.0 L457.7 490.9 L455.8 491.4 L454.3 493.7 L455.5 495.1 L457.5 495.1 L458.9 496.1 L460.6 495.7 L462.2 495.7 L463.7 495.9 L465.2 496.9 L466.8 497.0 L468.3 496.7 L469.9 496.6 L471.4 496.1 L473.0 496.3 L474.4 495.0 L476.1 495.7 L477.6 495.3 L478.2 493.3 L479.2 491.4 L480.2 490.0 L480.7 488.4 L480.7 486.7 L480.8 485.0 L479.0 483.9 L479.2 482.1 M466.7 480.5 L467.9 482.1 L469.4 483.2 L471.4 483.6 L472.6 485.3 L474.9 485.1 L476.1 486.7 L477.6 486.2 L479.2 486.0 L480.7 486.7 M479.2 482.1 L480.3 480.4 L482.7 480.5 L483.9 478.9 L485.7 478.3 L487.1 477.0 L488.5 475.8 L490.4 475.2 L491.8 473.9 L493.2 472.7 L494.7 472.0 L496.1 471.3 L497.7 470.9 L499.4 471.2 L500.8 472.1 L502.7 471.7 L504.1 472.7 L505.9 474.0 L507.2 475.8 M485.4 452.5 L485.9 454.0 L487.0 455.4 L487.0 457.0 L487.0 458.7 L487.7 460.2 L487.4 461.9 L488.3 463.3 L488.5 464.9 L489.8 466.3 L490.0 468.5 L491.7 469.6 L492.4 471.2 L493.2 472.7 M469.8 460.2 L470.4 461.7 L471.8 462.5 L473.0 463.4 L474.7 463.7 L475.6 465.1 L476.8 466.1 L477.7 467.5 L479.2 468.0 L480.9 468.6 L482.1 469.9 L483.8 470.5 L485.4 471.2 L486.8 472.5 L487.0 474.6 L488.5 475.8 M497.9 446.2 L499.5 447.4 L499.5 449.6 L501.0 450.9 L502.8 451.2 L504.1 452.5 L506.2 453.5 L507.2 455.6 L509.0 455.9 L510.3 457.1 M507.2 475.8 L508.4 477.7 L510.3 478.9 L510.8 480.5 L513.0 480.4 L513.5 482.1 L515.0 480.5 L516.6 478.9 M482.3 503.9 L483.9 505.4 L485.4 507.0 L487.1 507.1 L488.4 505.7 L490.1 505.8 L491.7 505.4 L493.2 504.8 L494.9 505.2 L496.3 503.9 L497.9 503.9 L499.6 502.7 L499.7 500.6 L501.0 499.2 M476.1 507.0 L477.5 508.3 L477.9 510.3 L479.2 511.7 L478.7 513.2 L478.8 515.0 L477.6 516.3 M420.0 491.4 L420.8 493.1 L422.7 494.1 L423.1 496.1 L422.2 497.5 L422.0 499.1 L421.5 500.6 L421.6 502.3 L422.5 504.0 L423.9 505.3 L424.7 507.0 L425.9 508.5 L426.9 510.0 L427.8 511.7 M420.0 502.3 L421.4 503.3 L423.3 502.4 L424.5 504.1 L426.2 503.9 L428.0 503.6 L429.5 504.4 L430.9 505.4 L432.5 505.0 L434.0 506.1 L435.6 505.4 M429.2 478.7 L430.8 477.9 L432.2 477.0 L434.1 477.0 L435.4 475.6 L436.8 474.4 L438.5 474.0 L440.1 473.3 L441.7 472.5 M459.3 448.3 L458.8 446.7 L458.0 445.4 L457.0 444.2 L455.9 443.0 L454.6 442.1 L453.4 441.1 L452.5 439.8 M520.9 453.0 L522.3 454.1 L522.3 456.1 L523.5 457.4 L524.7 458.6 L524.7 460.2 L526.0 461.5 L525.9 463.1 L525.7 464.7 L526.5 466.1 L525.7 467.4 L525.7 469.2 L524.5 470.3 L523.7 471.7 L522.0 472.7 L521.7 474.8 L520.7 476.2 L519.1 477.3 L518.1 478.8 L516.3 479.5 L515.3 481.0 M511.6 479.2 L513.2 480.6 L515.3 481.0 L516.5 482.7 L517.1 484.5 L517.2 486.6 M504.1 492.2 L505.4 493.4 L506.2 494.9 L506.9 496.5 L507.9 497.9 L507.4 499.6 L506.2 500.9 L505.5 502.4 L504.1 503.5 L502.3 504.2 L501.4 505.7 L500.4 507.2 L500.4 509.0 L498.4 510.0 L498.5 511.9 M476.1 509.1 L477.3 507.7 L479.0 507.4 L481.0 507.6 L482.3 506.5 L483.6 505.3 L485.2 505.3 L486.5 504.5 L487.9 503.7 L489.6 504.1 L491.0 503.5 M471.8 339.6 L472.9 341.3 L473.2 343.2 L473.2 345.2 L473.9 347.0 L474.9 348.7 L474.6 350.8 L475.3 352.2 L475.2 353.8 L475.9 355.2 L476.7 356.5 L476.0 358.4 L475.1 360.2 L474.6 362.1 L476.4 363.5 L478.1 364.9 L479.9 365.9 L480.9 367.7 L480.0 369.7 L479.5 371.9 L478.9 373.4 L477.7 374.5 L477.4 376.1 L476.1 377.2 L476.1 379.0 L475.2 380.2 L474.6 381.7 L473.3 382.9 L472.8 384.6 L471.8 385.9 L471.0 387.6 L469.2 388.5 L468.3 390.1 L466.7 391.1 L466.2 392.9 M485.1 357.9 L485.4 359.5 L486.2 360.9 L487.2 362.1 L487.1 364.1 L487.8 365.9 L488.6 367.7 L488.6 369.6 L489.1 371.4 L489.3 373.3 L489.0 375.5 L488.0 377.5 L487.0 379.5 L486.5 381.7 L485.9 383.5 L484.3 384.6 L483.0 385.9 L481.3 387.0 L480.2 388.7 L479.2 389.9 L478.6 391.4 L478.1 392.9 M485.1 357.9 L486.9 357.0 L488.8 356.8 L490.7 356.5 L490.6 354.4 L490.7 352.2 L490.6 350.1 L490.0 348.0 L491.0 346.8 L492.2 345.9 L493.8 347.2 L495.7 348.0 L497.4 348.0 L498.5 346.6 L499.6 345.3 L501.4 345.1 L503.0 344.4 L504.1 343.1 L505.4 342.2 L506.9 341.7 L508.3 341.0 L509.8 339.4 L509.0 337.0 L510.4 335.4 L511.4 334.0 L511.8 332.3 L513.2 331.2 L513.9 330.5 L515.8 331.0 L517.6 331.2 L519.5 330.5 L521.4 330.3 L523.1 329.4 L525.1 329.8 L527.0 329.7 L528.8 329.4 L530.7 329.1 L532.7 329.0 L534.4 328.2 L536.3 327.7 L538.2 327.5 L540.2 327.3 L541.9 326.3 L543.5 326.0 L545.0 325.6 L546.7 325.4 L548.3 326.3 L550.0 325.5 L551.6 325.4 L552.9 326.6 L554.5 326.5 L555.9 327.1 M490.7 356.5 L492.3 357.1 L494.0 356.2 L495.4 357.8 L497.1 357.2 L498.7 358.8 L499.9 360.7 L501.8 361.6 L502.7 363.5 L504.7 362.4 L506.9 362.1 L508.2 360.6 L509.7 359.3 L510.7 357.9 L512.5 357.9 L514.0 358.8 L515.3 360.0 L516.7 362.1 L516.6 364.0 L515.9 365.8 L516.0 367.7 L516.5 369.5 L516.9 371.4 L516.7 373.3 L518.9 373.6 L520.9 374.7 L522.8 374.9 L524.7 375.0 L526.5 374.0 L528.4 373.8 L530.2 373.1 L532.1 373.3 L534.0 373.6 L535.8 372.7 L537.7 372.6 L539.9 372.5 L541.9 373.3 L544.7 372.9 L546.3 371.4 L548.4 371.0 M533.5 328.4 L533.5 330.4 L533.9 332.3 L534.9 334.0 L534.2 335.8 L534.0 337.7 L533.5 339.6 L532.5 340.9 L532.0 342.7 L530.7 343.8 L530.7 346.1 L532.1 348.0 L532.3 349.9 L531.9 351.7 L532.1 353.6 L532.6 355.3 L533.5 356.8 L534.9 357.9 L536.3 358.8 L537.9 359.5 L539.1 360.7 L540.6 361.1 L542.2 360.8 L543.4 362.3 L545.0 362.1 L546.7 361.1 L548.8 361.1 L550.3 359.8 L551.6 361.5 L552.1 363.6 M541.9 369.1 L540.6 370.6 L539.1 371.9 L540.2 373.9 L540.5 376.1 L539.9 377.6 L539.1 378.9 L538.6 380.6 L537.9 382.2 L536.3 383.1 L535.1 384.3 L534.7 386.1 L533.5 387.3 L533.2 389.3 L532.4 391.2 L531.4 392.9 L531.7 394.8 L532.0 396.6 L532.1 398.5 L532.7 400.2 L533.5 401.7 L534.7 403.0 L535.3 404.7 L534.0 406.3 L533.5 408.2 L533.5 410.3 L534.8 411.9 L534.2 414.2 L535.3 415.9 M492.3 300.0 L491.6 301.5 L491.8 303.0 L492.9 304.5 L491.7 306.0 L492.3 307.5 L492.7 309.4 L494.3 311.0 L494.2 313.1 L495.8 312.5 L497.1 314.2 L498.7 313.9 L500.3 313.4 L501.7 314.0 L503.1 313.1 L504.6 313.0 L506.1 313.0 L507.8 313.7 L509.2 313.1 M520.4 309.3 L521.8 308.7 L523.3 308.0 L525.1 308.9 L526.5 308.3 L527.9 307.5 L529.2 306.6 L531.0 307.4 L532.4 306.5 L533.9 306.4 L535.3 305.6 L537.3 305.2 L539.2 305.0 L540.9 303.7 L542.2 304.7 L543.7 305.4 L545.6 304.9 L546.8 306.2 L548.4 306.5 L549.8 307.2 L551.0 308.3 L552.6 308.5 L554.0 309.3 M456.4 212.4 L455.1 213.5 L454.9 215.2 L454.7 216.8 L453.6 218.0 L453.0 219.8 L452.2 221.5 L450.7 222.7 L450.5 224.4 L451.0 226.1 L450.1 227.7 L449.8 229.3 L450.7 231.1 L450.4 233.0 L450.7 234.9 L452.0 236.4 L453.2 238.0 L454.5 239.5 L455.8 241.0 L458.1 240.6 L459.2 242.3 L461.0 243.2 L462.9 242.9 L464.8 243.3 L466.6 243.7 L468.5 244.2 L470.4 244.2 L472.0 244.5 L473.4 243.4 L475.0 243.3 L475.8 241.7 L477.6 240.6 L477.9 238.6 L477.5 236.9 L478.7 235.5 L478.8 233.9 L480.4 233.5 L481.6 232.0 L483.5 232.1 L485.4 232.3 L487.2 232.4 L489.1 232.1 L491.2 232.2 L492.7 230.6 L494.7 230.2 L496.7 230.7 L498.4 229.6 L500.3 229.3 L503.1 228.3 M466.6 243.3 L466.9 244.9 L466.4 246.7 L468.1 248.1 L467.6 249.8 L467.5 251.7 L468.0 253.6 L468.5 255.4 L469.9 256.5 L470.5 258.4 L472.2 259.2 L473.6 260.3 L474.8 261.6 L476.0 262.9 L475.6 264.8 L474.9 266.6 L475.0 268.5 L474.5 270.6 L473.2 272.2 L471.7 272.6 L470.1 273.0 L468.5 273.2 L467.0 273.5 L465.4 273.4 L464.1 274.6 L462.4 274.1 L461.0 275.0 L459.6 275.7 L458.0 276.2 L456.7 277.1 L455.1 277.3 L453.6 277.9 L451.5 277.7 L449.7 278.8 L447.9 279.7 L446.0 279.2 L444.2 280.0 L442.3 279.7 L440.6 280.9 L438.6 281.6 L436.6 281.0 L434.9 279.7 L434.8 278.1 L434.6 276.4 L434.6 274.8 L433.9 273.2 L433.8 271.3 L435.5 270.2 L435.8 268.5 L437.3 267.7 L437.7 266.1 L438.6 264.8 L438.9 262.6 L440.5 261.0 L441.5 259.5 L442.4 257.9 L444.2 257.3 L446.0 256.5 L448.0 257.4 L449.8 256.4 L451.6 256.9 L453.5 257.3 L455.4 257.3 L456.2 255.5 L456.8 253.7 L456.4 251.7 L456.3 249.8 L455.9 247.9 L455.4 246.1 L455.3 244.2 L455.1 242.3 L454.5 240.5 M436.7 281.6 L437.9 282.7 L439.1 283.7 L440.5 284.4 L442.4 284.2 L444.2 285.3 L446.1 285.3 L447.7 285.2 L449.3 285.6 L450.9 284.4 L452.5 284.5 L454.1 285.0 L455.7 284.3 L457.2 285.7 L458.7 286.1 L460.3 285.8 L462.0 285.4 L463.5 285.8 L465.1 286.1 L466.7 285.7 L468.1 285.0 M432.3 270.2 L433.9 269.8 L435.3 268.8 L437.0 268.7 L437.8 266.9 L439.0 265.5 L440.1 264.0 L440.6 262.3 L441.5 260.8 L442.6 259.5 L443.2 257.8 L445.1 257.7 L446.3 256.2 L448.1 256.0 L449.4 257.4 L451.0 257.8 L452.6 257.0 L454.1 257.2 L455.6 258.3 L457.2 257.8 L457.9 256.3 L458.9 254.9 L458.8 253.1 L457.9 251.6 L457.2 250.0 M424.5 274.9 L426.3 274.7 L427.7 275.8 L429.2 276.5 L431.1 276.7 L433.0 276.5 M489.1 249.8 L490.7 251.1 L492.6 251.8 L494.7 251.7 L496.2 251.3 L497.6 250.8 L499.0 249.9 L500.7 250.4 L502.1 249.8 L503.7 249.2 L505.4 249.1 L507.1 249.6 L508.5 248.5 L510.1 248.2 L511.8 248.8 M489.1 283.5 L491.0 283.4 L492.7 282.1 L494.7 282.3 L496.0 283.6 L498.0 282.7 L499.3 283.9 L501.0 284.1 L502.3 282.5 L503.8 281.9 L505.6 282.3 L507.0 283.2 L508.8 283.0 L510.2 283.9 L512.1 284.0 L513.8 282.8 L515.7 283.1 L517.5 282.0 L519.6 282.3 M494.7 285.4 L494.6 287.1 L495.1 288.6 L495.2 290.3 L496.2 291.7 L495.4 293.2 L496.1 295.0 L494.9 296.3 L494.7 297.9 L494.0 299.4 L494.0 301.0 L492.8 302.4 L493.1 304.1 L494.0 305.5 L493.4 307.5 L494.7 308.8 L494.1 310.9 L494.2 313.1 M532.1 232.5 L533.3 233.9 L533.7 235.4 L533.0 237.2 L533.6 238.7 L533.5 240.4 L535.1 241.6 L535.1 243.3 L535.2 244.9 L534.8 246.5 L535.8 248.1 L534.6 249.6 L535.2 251.2 L534.4 252.8 L533.6 254.3 M516.5 256.6 L517.8 255.4 L519.6 255.3 L521.2 255.0 L522.8 254.3 L524.2 253.4 L525.8 252.7 L527.2 253.7 L529.2 253.7 L530.5 255.0 L532.1 255.3 L533.6 254.3 L535.2 254.3 L536.7 254.7 L538.3 254.9 L539.9 254.7 L541.4 255.0 L542.9 254.6 L544.6 255.1 L546.1 255.2 L547.6 254.3 L549.2 254.5 L550.8 253.9 L552.3 253.5 L553.8 252.9 L555.3 252.2 L557.0 252.7 L558.8 253.1 L560.1 251.9 M546.1 240.2 L545.3 241.0 L545.2 242.9 L545.3 244.7 L546.1 246.5 L547.8 247.0 L549.2 248.0 L550.8 247.9 L552.5 248.3 L553.9 247.3 L553.6 245.1 L552.3 243.4 L550.9 241.7 L549.2 240.2 L547.7 240.5 L546.1 240.2 M549.2 255.0 L549.1 256.9 L548.0 258.6 L548.4 260.5 L548.1 262.1 L547.1 263.5 L546.9 265.2 L546.7 266.8 L546.2 268.3 L546.4 269.8 L546.9 271.4 L546.9 273.0 L546.1 274.5 L544.8 275.8 L543.1 275.9 L541.4 276.1 L539.9 276.7 L538.2 277.0 L536.7 277.6 L535.5 278.9 L535.2 280.7 L533.8 282.0 L533.6 283.9 L532.3 285.1 L530.3 284.4 L528.9 285.4 L527.3 284.9 L525.8 285.4 M541.4 276.1 L541.6 277.9 L543.0 279.2 L544.5 279.3 L546.1 279.2 L547.6 278.8 L549.2 279.8 L550.7 279.2 M533.6 283.9 L534.8 285.5 L536.7 286.2 L538.2 286.7 L539.8 287.3 L541.5 286.5 L543.0 287.0 L544.5 286.1 L546.1 286.7 L547.7 286.9 L549.2 286.2 M520.6 308.1 L522.4 307.4 L524.4 308.1 L526.2 307.4 L528.2 307.6 L529.8 306.0 L531.8 306.0 L533.7 305.9 L535.6 305.8 L537.4 305.3 L538.8 304.2 L540.2 303.2 L541.8 303.5 L543.0 304.6 L545.0 304.7 L546.6 305.9 L548.6 306.0 L550.4 306.9 L552.4 306.9 L554.3 307.4 L556.0 307.5 L556.9 309.3 L558.5 309.5 L559.6 310.9 L561.3 311.6 L563.3 310.5 L565.5 310.2 L567.0 309.6 L568.3 308.8 L570.3 309.8 L572.5 309.5 L574.7 309.8 L576.7 308.8 L578.8 308.1 L580.9 307.4 L583.0 307.0 L585.1 306.7 L587.2 306.1 L589.3 305.3 L591.3 304.4 L593.5 304.6 M558.5 309.5 L559.5 311.0 L560.0 312.6 L559.9 314.4 L560.3 316.0 L561.3 317.2 M586.5 314.4 L587.7 312.8 L589.3 311.6 L590.8 310.3 L592.1 308.8 L592.6 306.6 L593.5 304.6 L594.5 303.2 L594.9 301.5 L596.3 300.4 L596.2 298.2 L597.5 296.5 M582.3 285.0 L582.5 286.9 L584.3 287.7 L585.1 289.2 L586.9 289.6 L587.8 291.3 L589.3 292.0 L591.2 293.2 L593.5 293.4 L595.6 294.2 L597.0 296.0 M600.5 297.6 L599.9 299.4 L599.8 301.4 L599.1 303.2 L598.6 305.1 L599.0 307.1 L597.7 308.8 L599.2 310.6 L599.1 313.0 M576.7 322.9 L575.2 324.7 L575.3 327.1 L575.4 329.4 L576.7 331.3 L577.0 334.0 M582.3 321.5 L582.8 323.4 L583.1 325.3 L583.7 327.1 L583.4 329.3 L582.3 331.3 L581.7 332.8 L582.2 334.4 L582.0 336.0 M565.5 341.1 L567.3 340.8 L568.6 339.6 L569.7 338.3 L571.1 337.2 L572.2 335.9 L572.5 334.1 L573.0 332.0 M562.7 345.3 L564.5 344.4 L566.2 343.6 L568.3 343.9 L569.4 342.4 L570.8 341.4 L572.1 340.2 L573.9 339.7 L574.3 337.9 L576.0 337.0 M515.0 329.9 L516.9 329.8 L518.8 330.1 L520.6 329.2 L522.5 328.9 L524.4 329.5 L526.2 328.5 L528.2 328.7 L529.8 326.8 L531.8 327.1 L533.7 327.0 L535.5 326.5 L537.4 326.4 L539.3 325.8 L541.1 327.2 L543.0 326.4 L544.9 326.0 L546.7 326.5 L548.6 326.4 L550.5 326.4 L552.5 326.7 L554.3 325.7 L556.4 326.0 L558.5 325.7 M533.2 327.1 L533.4 329.0 L533.3 330.8 L533.2 332.7 L533.3 334.7 L531.5 336.2 L531.8 338.3 L531.0 340.2 L532.3 342.0 L531.8 343.9 L531.8 346.2 L530.4 348.1 L531.3 349.9 L531.6 351.8 L531.8 353.7 M576.4 262.1 L575.9 263.7 L576.1 265.3 L576.4 266.8 L577.2 268.3 L577.8 269.9 L576.3 271.3 L576.2 272.9 L576.4 274.5 L576.4 276.1 L576.1 277.8 L577.2 279.2 M583.5 262.1 L584.7 263.4 L585.1 265.0 L585.0 266.7 L585.1 268.4 L585.4 270.1 L586.6 271.4 L586.8 273.1 L587.9 274.4 L588.1 276.1 M571.0 279.2 L571.1 280.8 L571.1 282.4 L571.8 283.9 L573.5 285.1 L574.1 287.0 L575.8 287.5 L577.2 288.5 L578.9 288.6 L580.5 289.0 L581.9 290.1 L583.5 289.5 L584.9 288.5 L586.6 288.5 L588.1 287.3 L590.0 287.0 M581.9 279.2 L583.0 280.6 L582.7 282.4 L583.5 283.9 L583.9 285.7 L582.3 286.9 L582.8 288.7 L581.9 290.1 M304.3 595.8 L306.3 596.2 L307.0 598.5 L309.0 598.9 L310.9 600.1 L312.1 602.0 L313.8 602.5 L315.3 602.1 L316.8 601.2 L318.3 602.1 L320.0 601.0 L321.5 601.7 L323.0 602.0 L324.5 601.1 L326.2 602.3 L327.8 602.0 L329.3 601.2 L330.8 601.8 L332.4 602.0 L334.0 603.0 L335.7 603.8 L337.1 605.1 L338.5 606.2 L340.2 606.1 L341.7 606.7 L343.3 606.9 L344.8 606.1 L346.4 606.7 L347.9 606.0 L349.4 605.4 L351.1 605.9 L352.7 605.9 L354.2 605.2 L355.6 604.2 L357.3 604.4 L359.0 604.8 L360.4 603.5 L362.0 603.6 L362.6 602.0 L363.5 600.5 L362.2 599.2 L362.0 597.4 L362.1 595.7 L363.5 594.4 L363.5 592.7 L364.3 591.0 L365.2 589.2 L366.7 588.0 L367.6 586.7 L368.5 585.5 M310.6 603.6 L312.3 604.4 L313.3 606.2 L315.2 606.7 L316.8 607.9 L316.7 610.3 L318.4 611.4 L317.8 613.1 L315.6 613.2 L314.7 614.6 L313.7 616.0 L312.5 617.9 L310.6 619.2 L312.2 619.2 L313.7 618.8 L315.2 618.8 L316.8 619.2 L318.3 618.5 L319.9 618.6 L321.6 619.4 L323.0 618.4 L324.5 619.4 L326.1 619.5 L327.8 618.3 L329.3 619.2 L331.1 620.5 L332.4 622.3 L332.3 624.1 L334.2 625.2 L334.0 627.0 L334.1 628.7 L335.3 630.0 L335.5 631.7 L334.2 633.0 L335.3 635.0 L334.0 636.3 L333.0 637.7 L333.2 639.5 L332.4 641.0 L332.4 642.7 L332.1 644.3 L330.8 645.6 L330.8 647.3 L331.8 648.5 L332.4 650.0 M340.2 606.7 L341.2 608.1 L341.3 609.8 L341.7 611.4 L340.5 612.7 L341.2 614.6 L340.2 616.0 L340.6 617.6 L341.8 619.0 L341.7 620.8 L341.4 622.6 L340.2 623.9 L341.4 625.8 L343.3 627.0 L345.0 626.8 L346.3 625.4 L348.0 625.4 L349.3 624.2 L350.8 623.7 L352.6 623.9 L354.3 622.5 L355.7 620.8 L357.3 620.0 L358.9 619.2 L360.2 617.3 L362.0 616.0 L361.8 614.4 L362.7 613.0 L362.8 611.4 L363.4 609.9 L363.8 608.3 L363.5 606.7 L363.6 605.2 L363.5 603.6 M352.6 623.9 L353.6 625.3 L354.4 626.7 L354.2 628.5 L355.5 630.4 L357.3 631.7 L358.9 632.1 L360.3 633.1 L362.0 633.2 L363.2 631.8 L365.1 631.7 M363.5 609.8 L365.1 610.3 L366.6 609.5 L368.2 610.4 L369.8 609.8 L371.3 610.6 L372.9 610.2 L374.6 609.6 L376.0 610.6 L377.7 610.9 L379.1 609.8 L380.8 610.1 L382.2 609.1 L383.7 608.4 L385.2 608.0 L386.9 608.3 M363.5 560.0 L362.5 561.4 L362.7 563.2 L362.0 564.7 L363.6 565.4 L364.5 566.8 L365.4 568.3 L366.7 569.3 L368.7 569.7 L369.7 571.5 L371.3 572.5 L371.9 574.0 L372.3 575.6 L372.9 577.1 M372.9 577.1 L374.3 576.0 L376.1 576.4 L377.6 575.6 L379.5 574.4 L380.7 572.5 L382.5 572.6 L383.7 571.1 L385.4 570.9 L387.1 570.7 L388.4 569.6 L390.0 569.3 L391.7 569.2 L392.9 567.6 L394.7 567.8 L396.6 568.0 L398.4 567.7 L400.0 566.5 L401.5 566.4 L403.0 566.3 L404.5 566.2 L406.0 566.0 M382.2 572.5 L382.7 574.1 L384.0 575.3 L383.8 577.1 L384.8 579.3 L386.9 580.3 L388.7 580.9 L390.3 581.9 L391.6 583.4 L393.4 583.5 L394.7 584.9 L396.5 584.7 L398.2 585.8 L400.0 585.5 L401.6 584.5 L403.3 584.5 L405.0 585.0 M365.1 580.3 L366.8 580.1 L368.1 578.7 L369.8 578.7 L371.0 577.2 L372.9 577.1 M351.1 560.0 L352.5 561.7 L354.2 563.1 L354.5 565.1 L355.0 567.0 M396.5 580.5 L395.9 582.4 L395.0 584.1 L394.7 586.1 L396.2 587.1 L396.0 589.2 L397.2 590.5 L398.4 591.7 L400.5 591.6 L402.3 592.4 L404.0 593.6" fill="none" stroke="#7a7a7a" stroke-width="0.8" stroke-linejoin="round"/>
<path d="M46.0 290.6 L47.5 291.3 L49.1 292.0 L50.7 292.4 L52.3 292.9 L53.7 294.0 L62.3 297.4 L64.0 297.8 L65.8 298.0 L67.4 299.1 L69.0 299.9 L70.8 300.0 L72.6 300.1 L74.2 301.1 L75.9 301.8 L77.8 301.7 L79.4 302.6 L81.0 303.3 L82.7 303.8 L84.6 303.5 L86.3 303.9 L88.0 304.3 L89.7 304.9 L91.4 304.7 L93.1 304.8 L94.8 305.1 L96.3 306.4 L98.1 307.1 L100.0 307.7 L101.5 308.4 L102.9 309.2 L104.2 310.1 L105.5 311.1 L106.8 312.0 L108.3 313.4 L110.1 314.0 L111.8 315.0 L113.7 315.4 L115.3 316.4 L117.0 317.1 L119.0 316.8 L120.5 318.0 L122.2 318.9 L123.7 320.2 L125.4 321.0 L127.4 321.4 L129.2 321.8 L130.8 322.6 L132.4 323.5 L134.2 324.0 L136.0 324.5 L137.6 325.3 L139.6 325.4 L141.1 326.5 L143.0 327.2 L144.8 328.1 L146.7 328.9 M146.7 328.9 L148.0 327.3 L150.0 326.7 L150.7 324.8 L152.2 323.4 L153.9 323.7 L155.4 322.9 L157.1 323.5 L158.8 323.9 L160.6 323.6 L162.5 322.8 L164.3 321.8 L166.2 321.7 L168.0 320.8 L169.8 320.3 L171.4 319.3 L172.7 318.0 L174.1 316.9 L175.9 317.0 L177.4 316.2 L179.2 315.6 L181.2 315.7 L183.0 315.2 L183.7 313.5 L184.9 312.2 L185.8 310.6 L187.2 309.5 L187.7 307.8 L188.7 306.5 L189.5 305.0 L191.4 302.7 L193.0 302.3 L194.7 302.4 L196.3 302.2 L197.9 302.1 L199.5 302.9 L201.2 302.3 L202.9 302.6 L204.5 303.1 L205.3 304.8 L206.8 306.0 L207.3 307.8 L208.5 309.1 L209.4 310.7 L211.0 311.5 L212.9 312.9 L214.8 314.3 L216.5 313.1 L218.5 312.4 L220.7 313.4 M220.7 313.4 L220.9 315.0 L221.0 316.7 L221.6 318.2 L221.3 319.9 L221.5 321.8 L221.3 323.7 L220.9 325.6 L220.4 327.4 L220.7 329.3 L221.1 331.1 L221.4 333.0 L221.3 334.9 L221.3 345.1 L223.0 344.7 L224.7 345.4 L226.3 345.9 L228.0 345.7 L229.7 345.7 L231.6 345.9 L233.4 346.1 L235.3 345.6 L237.2 346.1 L239.0 346.6 L240.9 346.7 L242.8 347.0 L243.4 348.6 L243.9 350.2 L244.7 351.7 L243.8 353.3 L243.0 354.9 L241.9 356.4 L242.8 357.8 L243.4 359.3 L243.7 361.0 L245.1 362.9 L246.5 364.8 L245.7 366.7 L244.5 368.5 L243.7 370.4 L243.6 372.1 L242.7 373.5 L241.9 375.0 L240.6 376.3 L240.3 378.3 L239.1 379.7 L237.8 380.9 L236.6 382.2 L235.3 383.5 L233.5 384.4 M220.7 313.4 L266.2 313.8 L266.2 312.0 L266.1 310.3 L267.1 308.7 L266.5 306.9 L267.2 305.3 L267.1 303.6 L267.0 301.7 L267.3 299.8 L268.1 298.0 L269.1 296.6 L269.3 294.8 L270.0 293.3 L269.0 291.4 L267.2 289.9 L266.2 287.7 L265.6 285.8 L265.3 283.9 L266.2 282.3 L267.4 281.0 L268.1 279.3 L273.7 268.0 L281.2 253.1 L287.7 240.0 L292.4 229.1 L296.1 219.7 L297.2 218.0 L298.9 216.9 L297.1 217.5 L295.2 217.5 L293.2 217.2 L291.4 217.9 L289.7 216.7 L287.7 216.0 L285.9 215.4 L284.5 214.3 L283.0 213.2 L281.1 212.4 L279.4 211.1 L277.4 210.4 L276.1 209.3 L274.8 208.2 L273.4 207.2 L271.8 206.6 L270.6 205.4 L269.5 203.9 L268.1 202.9 L267.1 201.3 L266.0 199.9 L264.6 198.7 L263.4 197.3 L262.8 195.3 L261.8 193.5 L260.6 191.7 L260.7 189.7 L259.4 188.0 L259.9 186.0 L259.1 184.2 L259.1 168.9 M194.6 155.6 L197.4 156.4 L199.2 156.6 L200.4 158.2 L202.1 158.7 L203.2 160.7 L204.4 162.6 L204.8 164.2 L204.6 165.9 L205.5 167.3 L205.9 169.4 L206.5 171.4 L206.9 173.5 L206.9 175.6 L207.1 177.8 L207.8 179.8 L208.1 181.9 L208.8 183.9 L209.1 186.0 L209.4 188.1 L209.7 190.1 L209.9 192.2 L209.3 193.7 L209.4 195.4 L209.0 197.0 L208.5 198.5 L209.8 199.8 L211.2 200.9 L212.4 202.2 L214.4 203.3 L216.1 204.7 L217.1 206.2 L218.3 207.5 L219.9 208.4 L221.1 209.7 L220.9 208.0 L220.7 206.4 L220.6 204.7 L220.5 202.6 L221.0 200.5 L221.5 198.5 L222.4 197.0 L223.9 196.1 L225.5 195.6 L227.0 195.0 L228.9 196.0 L230.9 196.9 L232.4 198.2 L233.2 200.0 L234.9 200.1 L236.3 199.2 L237.3 197.1 L238.7 195.3 L239.6 193.9 L240.0 192.3 L240.6 190.8 L240.2 189.0 L241.0 187.6 L242.1 185.8 L243.3 184.1 L259.1 184.1 M319.5 153.4 L319.0 155.2 L320.1 157.1 L320.0 159.0 L319.5 160.8 L321.1 161.8 L322.8 162.7 L324.1 164.1 L326.0 164.6 L327.4 165.5 L329.0 165.8 L330.3 166.8 L332.0 166.9 L333.5 167.4 L335.1 168.6 L336.5 170.0 L338.2 171.1 L339.3 172.9 L340.2 174.8 L341.0 176.7 L341.5 178.6 L342.4 180.4 L342.9 182.3 L343.2 184.0 L344.2 185.4 L345.1 186.8 L346.3 188.1 L346.6 189.8 L347.7 191.4 L348.6 193.0 L349.3 194.8 L350.3 196.4 L351.1 198.0 L351.8 199.7 L352.6 201.3 L354.0 202.5 L356.0 203.5 L358.0 204.6 L360.0 203.5 L362.1 202.5 L362.9 201.0 L363.9 199.7 L364.0 197.9 L364.8 196.5 L365.9 195.3 L367.1 194.2 L367.4 192.4 L368.7 191.3 L370.0 190.0 L371.9 189.4 L373.2 188.1 L374.3 186.6 L375.7 185.5 L376.8 183.9 L378.8 183.5 L379.9 182.0 L381.5 180.2 L382.7 178.2 L384.7 177.6 L386.4 176.4 M442.9 205.3 L441.6 214.7 L440.5 216.4 L440.1 218.2 L440.1 220.2 L439.5 222.0 L438.9 223.9 L437.8 225.5 L436.6 227.0 L436.1 229.1 L435.7 231.2 L435.0 232.7 L434.6 234.4 L433.8 235.9 L432.6 237.1 L432.0 238.7 L431.0 240.1 L430.3 241.8 L428.7 242.9 L428.1 244.6 L427.3 246.2 L426.6 247.9 L425.1 248.9 L423.7 249.9 L423.0 251.6 L421.7 252.7 L420.2 253.4 L419.2 255.0 L417.6 255.7 L416.1 256.4 L414.5 257.0 L413.2 258.2 L411.8 259.1 L410.5 260.2 L409.5 261.7 L408.0 262.7 L406.7 263.9 L405.8 264.9 L407.7 264.0 L409.5 263.0 L411.9 262.9 L414.2 263.4 L416.0 264.1 L417.9 264.4 L419.8 264.9 L420.7 266.6 L422.3 267.4 L423.6 268.6 L423.9 270.5 L424.5 272.3 L424.7 274.2 L424.5 276.1 L424.0 277.9 L424.5 279.9 L424.3 281.8 L423.6 283.6 L423.3 285.6 L422.3 287.3 L421.7 289.2 L420.7 292.0 L421.9 293.7 L423.6 294.8 L424.7 296.1 L425.8 297.5 L427.3 298.5 L429.1 299.5 L430.1 301.3 L432.6 301.2 L434.8 302.2 L435.4 304.2 L436.6 306.0 L435.4 308.0 L433.8 309.7 L432.2 311.4 L431.0 313.5 L431.5 315.3 L432.1 317.1 L432.0 319.0 L433.2 320.7 L434.4 322.4 L435.0 324.5 L435.6 326.2 L436.9 327.3 L438.1 328.5 L439.0 330.0 L440.2 331.1 L441.4 332.2 L442.5 333.5 L445.0 335.0 L447.7 334.0 M405.8 264.9 L407.4 265.8 L407.9 267.7 L409.5 268.6 L409.7 270.5 L409.6 272.4 L410.5 274.2 L409.9 276.1 L409.1 277.9 L408.6 279.8 L407.6 281.6 L406.6 283.3 L404.9 284.5 L403.1 285.0 L401.5 286.0 L400.2 287.3 L399.8 289.2 L398.5 290.9 L398.3 292.9 L397.9 294.8 L398.5 296.6 L398.2 298.5 L398.3 300.4 L397.2 301.7 L397.2 303.4 L396.1 304.7 L396.3 306.5 L395.5 307.9 L394.7 309.4 L393.4 310.6 L393.0 312.3 L391.8 313.5 L391.0 315.0 L389.5 316.0 L389.0 317.7 L388.0 319.1 L386.8 320.8 L386.4 323.0 L385.2 324.7 L384.8 326.7 L383.6 328.4 L383.1 330.1 L382.7 331.8 L381.2 333.1 L381.1 335.0 L380.9 336.9 L380.1 338.7 L380.2 340.7 L379.3 342.4 L379.0 344.3 L378.9 346.2 L378.7 348.0 L378.3 349.9 L378.6 351.8 L378.3 353.7 L377.2 355.5 L377.4 357.4 L378.0 359.2 L378.6 361.1 L379.2 362.9 L379.3 364.9 L380.1 366.7 L380.8 368.5 L381.1 370.5 L381.2 372.5 L380.2 374.2 L379.5 375.6 L379.3 377.3 L378.9 378.8 L377.7 380.1 L377.4 381.7 L374.6 391.0 L374.5 392.7 L373.7 394.1 L372.5 395.4 L372.8 397.2 L371.8 398.5 L370.9 399.9 L369.6 401.1 L368.6 402.5 L368.0 404.1 L366.9 405.8 L365.3 407.0 L363.6 408.1 L362.4 409.7 L361.3 411.1 L359.5 411.8 L358.7 413.5 L357.4 415.0 L355.2 415.5 L354.0 417.2 L352.7 418.5 L351.6 420.0 L350.0 421.0 L349.0 422.4 L348.4 423.9 L347.0 425.0 L345.6 426.3 L344.8 428.1 L343.4 429.3 L342.3 431.0 L342.0 433.1 L341.5 435.0 L341.4 436.9 L341.2 438.8 L340.6 440.6 L340.8 442.5 L341.5 444.3 L341.5 446.2 L342.1 448.3 L343.4 449.9 M270.0 293.3 L271.3 294.7 L271.8 296.6 L272.7 298.2 L273.7 299.8 L274.9 301.5 L275.3 303.7 L276.5 305.4 L277.1 307.0 L277.3 308.8 L277.8 310.4 L278.4 312.0 L280.0 313.2 L281.2 314.8 L283.1 316.1 L284.9 317.6 L287.0 318.6 L288.6 320.4 L290.2 321.0 L291.4 322.2 L301.7 323.2 L311.1 324.1 L320.4 325.0 L329.8 326.0 L339.1 326.5 L348.5 327.1 L357.8 327.7 L367.1 328.2 L369.1 328.7 L371.1 328.2 L373.0 328.7 L375.0 328.6 L376.7 328.1 L378.4 328.6 L380.2 328.3 L381.9 328.4 L383.6 328.4 M277.9 444.9 L279.7 443.7 L281.7 443.0 L283.3 441.6 L285.3 440.9 L287.3 440.2 L289.0 438.5 L291.0 437.4 L292.7 436.0 L294.8 435.5 L297.1 435.3 L299.4 434.6 L301.4 435.3 L303.2 436.4 L304.8 436.9 L306.1 438.1 L307.9 438.3 L309.7 439.1 L311.5 439.6 L313.5 439.6 L315.4 440.0 L317.2 439.6 L318.6 438.7 L320.3 438.5 L321.9 438.3 L323.7 438.4 L325.0 439.5 L326.8 439.4 L328.6 439.0 L330.3 438.5 L331.8 437.0 L333.5 435.7 L333.9 437.8 L334.0 440.0 L334.1 441.9 L334.4 443.7 L335.0 445.5 L337.0 446.5 L338.7 448.0 L340.3 449.6 L342.4 450.5 L343.4 449.9 M343.4 449.9 L344.7 451.0 L345.6 452.4 L347.1 453.2 L348.0 454.6 L350.1 455.1 L351.5 456.9 L353.6 457.4 L355.4 458.6 L357.3 459.5 L359.3 460.2 L361.4 460.6 L363.3 461.6 L364.9 463.0 L366.9 463.6 L368.8 464.5 L370.5 465.8 L372.0 466.6 L373.3 467.7 L373.2 469.3 L373.3 471.0 L372.8 472.6 L372.3 474.2 L371.2 475.5 L370.8 477.2 L369.2 478.2 L368.6 479.8 L367.3 481.3 L365.9 482.8 L364.9 484.5 L364.5 486.2 L363.6 487.8 L362.6 489.3 L362.1 491.0 L361.3 492.9 L360.8 495.0 L359.3 496.6 L358.0 497.8 L357.1 499.2 L356.7 500.9 L355.5 502.2 L354.5 503.8 L352.4 504.2 L351.2 505.6 L349.9 506.9 L348.8 508.3 L347.3 509.1 L346.0 510.1 L344.3 510.7 L342.3 511.3 L340.7 512.9 L338.7 513.5 L336.8 514.6 L335.5 516.5 L334.2 518.1 L333.5 520.0 L333.3 521.8 L332.0 523.0 L331.5 524.7 L330.8 526.4 L329.9 528.0 L328.5 529.1 L327.2 530.3 L326.2 531.8 M337.4 515.0 L339.2 514.1 L341.0 513.3 L343.0 513.1 L344.9 513.5 L346.7 512.7 L348.6 512.7 L350.5 513.1 L352.4 512.6 L354.2 512.5 L356.1 512.1 L357.9 512.8 L359.8 512.9 L361.7 513.1 L363.6 513.4 L365.6 513.3 L367.3 514.5 L369.2 514.6 L371.1 515.1 L372.9 515.8 L374.8 516.4 L376.6 517.2 L378.6 516.5 L380.4 517.2 L382.0 517.7 L383.7 517.0 L385.3 517.9 L386.9 517.8 L387.5 519.8 L388.8 521.5 L390.0 522.9 L390.6 524.7 L391.6 526.2 L391.7 528.2 L392.7 530.0 L393.5 531.8 L394.1 533.4 L395.0 534.8 L395.3 536.4 L397.1 538.0 L398.1 540.2 L400.1 541.0 L401.9 542.1 L404.2 542.4 L406.5 543.0 L407.8 544.7 L408.4 546.7 L409.8 547.8 L411.2 548.9 L412.1 550.5 M333.6 564.5 L335.4 565.1 L337.3 565.4 L339.3 565.2 L341.1 565.8 L343.0 565.8 L344.8 566.4 L346.7 566.6 L348.6 566.9 L350.4 567.7 L352.4 567.4 L354.3 567.6 L356.1 568.2 L357.9 569.0 L359.9 568.4 L361.7 569.2 L363.6 569.5 L365.5 569.6 L367.3 570.1 L369.0 568.5 L370.1 566.4 L371.7 565.8 L373.4 565.4 L374.8 564.5 L376.6 563.8 L378.6 564.1 L380.4 563.6 L382.3 563.4 L384.1 562.9 L386.0 562.6 L387.9 562.7 L389.8 562.5 L391.6 561.5 L393.5 561.7 L395.3 561.3 L397.2 561.3 L399.0 561.0 L400.9 561.3 L402.5 560.8 L404.2 561.0 L405.9 560.9 L407.5 561.3 M333.6 576.6 L335.5 577.2 L337.4 577.2 L339.3 577.6 L341.2 577.3 L343.0 577.6 L344.9 577.9 L346.7 578.1 L348.6 578.3 L350.5 578.4 L352.4 578.6 L354.2 579.4 L356.2 579.3 L357.8 580.9 L359.8 581.1 L361.7 581.3 L363.4 581.8 L364.4 583.4 L365.6 584.6 L367.3 585.0 L368.8 586.0 L370.7 586.5 L372.0 587.9 L373.4 589.7 L374.8 591.6 L376.1 592.8 L377.5 593.8 L378.5 595.3 L380.4 596.0 L382.4 596.0 L384.1 597.2 L385.9 598.1 L387.9 598.1 L388.7 599.6 L389.7 600.9 L388.7 602.7 L387.9 604.7 L386.7 606.4 L386.4 608.4 L387.5 611.0 M373.3 467.7 L374.4 465.9 L374.9 463.8 L376.1 462.1 L377.1 460.6 L378.3 459.3 L379.8 458.3 L381.5 457.1 L383.6 457.3 L385.4 456.4 L387.3 456.5 L389.1 455.6 L391.0 455.5 L392.7 454.5 L394.8 454.4 L396.6 453.6 L398.6 453.4 L400.5 452.9 L402.2 451.8 L404.0 451.1 L406.1 451.5 L407.9 450.8 L409.8 451.0 L411.6 450.6 L413.4 449.9 L415.3 449.9 L417.0 448.9 L419.2 449.0 L420.9 448.0 L422.0 446.6 L423.3 445.4 L424.7 444.3 L425.1 442.4 L425.1 440.5 L425.6 438.7 L426.3 436.9 L425.9 434.9 L426.5 433.1 L425.7 431.3 L426.0 429.4 L425.6 427.5 L425.7 425.6 L425.9 423.8 L425.5 421.9 L426.0 420.2 L426.0 418.4 M373.3 467.7 L374.1 469.4 L375.2 470.8 L376.8 471.9 L377.9 473.3 L379.8 473.3 L381.6 472.9 L383.5 473.1 L385.4 473.3 L387.3 473.7 L389.2 473.4 L391.0 474.2 L392.8 474.7 L394.8 474.4 L396.6 475.1 L398.3 476.0 L399.6 477.5 L401.5 477.9 L403.2 480.2 L403.2 478.5 L404.1 477.0 L405.9 476.2 L407.8 476.5 L409.7 476.0 L411.6 476.1 L413.5 476.1 L415.3 475.0 L417.3 475.8 L419.1 475.1 L420.8 475.7 L422.5 475.8 L424.2 475.6 L425.2 477.7 L426.0 479.8 L426.8 481.6 L426.8 483.6 L427.5 485.4 L428.1 486.9 L428.7 488.4 L429.4 489.9 L429.8 491.5 L431.6 492.8 L433.3 494.3 L434.6 495.4 L436.1 496.2 L435.4 498.0 L435.0 499.8 L435.1 501.8 L435.8 503.6 L436.0 505.5 L436.1 507.4 L436.8 509.2 L437.2 511.2 L437.9 513.0 L439.0 514.3 L439.8 515.8 L441.6 515.0 L443.6 514.9 L445.4 514.1 L447.3 514.0 L449.2 513.9 L451.0 513.0 L452.9 512.1 L454.9 512.0 L456.8 511.3 L458.5 510.2 L460.5 510.0 L462.4 509.5 L464.1 508.3 L466.1 508.2 L467.9 507.2 L469.7 506.4 L471.4 506.5 L472.9 505.3 L474.7 505.5 L477.0 505.4 L479.3 504.8 L481.7 504.5 L484.0 504.0 L485.5 503.2 L487.2 503.0 L488.7 502.4 L490.4 502.4 L491.8 501.4 L493.4 500.9 L495.0 500.3 L496.4 499.1 L498.0 498.5 L498.2 496.2 L498.8 493.9 L499.8 492.5 L499.3 490.6 L500.4 489.2 L501.7 487.8 L503.5 486.9 L504.5 485.0 L505.0 483.0 M505.0 483.0 L505.1 485.3 L505.0 487.6 L506.6 488.8 L507.4 490.7 L508.9 491.4 L510.6 491.6 L512.1 492.3 L514.4 492.8 L516.7 493.1 M505.0 483.0 L505.3 481.0 L505.8 479.1 L507.4 477.9 L508.9 476.7 L510.5 476.0 L512.1 475.2 L512.7 473.6 L513.6 472.1 L514.0 470.3 L515.2 468.9 L515.6 467.2 L516.7 465.8 L517.2 463.5 L516.7 461.2 L515.2 459.6 L513.6 458.0 L514.2 456.2 L516.0 455.2 L516.7 453.4 L515.7 451.9 L515.2 450.2 L516.5 449.0 L518.3 448.7 L519.8 446.4 L522.2 446.0 L524.5 445.6 L526.4 444.9 L528.4 444.8 L529.7 446.1 L531.0 447.4 L532.3 448.7 L534.6 450.2 M528.4 444.8 L527.0 443.4 L526.1 441.7 L525.1 439.8 L523.6 438.3 L523.0 436.2 L523.4 434.1 L523.7 432.0 L524.8 430.0 L525.8 428.0 L526.8 426.2 L528.6 425.0 L529.4 423.6 L530.0 422.0 L531.4 420.9 L530.9 419.1 L530.5 417.2 L528.8 415.9 L526.8 415.3 L524.9 414.4 L523.4 413.5 L521.7 412.8 L520.0 412.4 L518.3 413.1 L516.5 412.2 L514.8 413.0 L513.0 412.1 L511.0 411.8 L509.7 410.5 L509.2 408.7 L507.8 407.1 L506.0 406.2 L504.1 406.0 L502.3 405.5 L500.5 405.5 L499.1 404.2 L497.3 404.3 L495.7 403.4 L494.1 402.3 L492.3 401.8 L490.5 401.6 L489.2 400.2 L487.4 399.9 L485.0 399.7 L483.0 398.4 L481.5 399.2 L479.9 399.3 L478.0 398.8 L476.1 398.1 L476.1 395.0 L474.3 393.1 L472.0 393.4 L469.9 392.5 L468.0 393.0 L466.2 393.7 L464.9 395.0 L463.4 396.0 L461.8 396.8 L460.2 397.9 L458.9 399.4 L457.4 400.6 L455.5 401.2 L454.1 402.5 L452.5 403.7 L450.4 404.6 L448.7 406.2 L446.9 405.5 L445.0 404.9 L444.8 403.2 L443.7 401.8 L443.7 399.5 M440.9 374.2 L440.8 376.1 L442.0 377.9 L441.9 379.8 L441.6 381.7 L442.1 383.6 L441.6 385.4 L441.9 387.3 L441.9 389.2 L442.0 391.1 L443.0 392.9 L442.8 394.8 L443.3 396.6 L443.1 398.6 L443.7 400.4 L442.0 400.8 L440.9 402.2 L439.2 401.1 L437.2 400.4 L435.3 402.2 L434.9 404.3 L433.5 406.0 L432.4 407.8 L431.6 409.7 L432.5 411.5 L432.5 413.5 L431.1 414.9 L429.7 416.3 L427.6 417.0 L425.8 418.4 M447.7 334.0 L446.5 336.8 L445.6 338.4 L443.7 339.0 L442.8 340.6 L441.4 341.7 L440.5 343.3 L439.1 344.3 L438.8 346.3 L437.9 348.1 L437.2 349.9 L438.1 351.7 L439.6 353.1 L440.9 354.6 L441.9 357.4 L442.0 359.3 L441.8 361.2 L440.9 363.0 L441.7 364.8 L441.2 366.8 L441.9 368.6 L441.9 370.5 L441.2 372.3 L440.9 374.2 M440.9 374.2 L439.0 374.5 L437.2 374.2 L435.3 374.3 L433.5 374.9 L431.6 375.1 L429.8 375.9 L427.8 375.3 L426.0 376.1 L424.1 376.5 L422.2 377.0 L420.2 377.7 L418.5 378.9 L416.7 378.0 L414.8 377.9 L413.0 376.9 L411.0 377.0 L409.0 377.1 L407.3 376.1 L405.4 375.3 L403.6 374.2 L401.5 373.6 L399.8 372.3 L398.6 373.9 L397.0 375.2 L396.1 377.0 L394.3 376.2 L392.3 376.1 L390.2 375.6 L388.6 374.2 L387.4 372.6 L387.2 370.6 L386.0 369.0 L384.5 366.5 L383.0 369.0 L381.8 370.9 L381.0 373.0 L380.2 374.2 M504.9 228.3 L504.4 229.9 L503.7 231.4 L503.0 233.0 L501.8 234.3 L500.0 234.5 L498.9 235.9 L497.4 236.7 L495.6 237.6 L494.2 239.1 L492.7 240.5 L492.2 242.6 L491.0 244.3 L489.9 246.1 L489.9 248.0 L488.8 249.8 L489.0 251.7 L489.1 253.6 L490.0 255.4 L490.1 257.3 L489.9 259.2 L489.6 261.1 L489.0 262.9 L488.4 264.7 L488.0 266.6 L488.2 268.5 L488.3 270.3 L488.8 272.2 L488.3 274.1 L488.4 276.1 L488.9 278.0 L489.5 280.0 L489.2 282.0 L487.7 282.8 L485.9 282.9 L484.6 284.2 L482.7 284.9 L480.7 284.9 L478.7 284.6 L476.8 285.0 L475.0 286.0 L473.1 286.3 L471.9 287.6 L470.3 288.4 L469.1 289.8 L467.5 290.6 L465.8 291.3 L464.2 292.2 L462.3 292.5 L460.9 293.8 L458.8 293.9 L457.3 295.6 L455.3 295.7 L453.4 297.0 L451.6 298.5 L450.6 299.9 L449.8 301.3 L449.5 303.0 L448.7 304.5 L448.3 306.2 L447.9 307.9 L447.2 309.7 L447.1 311.7 L446.4 313.5 L446.4 315.4 L445.5 317.1 L445.5 319.0 L445.3 320.8 L445.4 322.6 L446.0 324.3 L446.4 326.0 L446.9 327.6 L446.6 329.3 L446.9 330.8 L447.4 332.4 L447.7 334.0 M447.7 334.0 L448.8 335.2 L450.2 336.1 L451.2 337.3 L452.6 339.2 L454.0 341.0 L455.6 341.5 L457.3 341.8 L458.7 342.9 L460.5 342.1 L462.4 341.4 L464.3 341.0 L466.3 341.3 L468.0 340.4 L469.9 340.1 L471.4 339.0 L472.9 338.0 L474.6 337.3 L474.9 335.6 L475.6 334.1 L476.4 332.6 L475.5 330.3 L475.5 327.9 L475.4 325.9 L476.4 324.2 L478.5 323.6 L480.2 322.3 L481.8 322.6 L483.3 322.9 L484.9 323.3 L486.7 324.3 L488.6 325.1 L490.4 324.6 L492.3 324.1 L494.2 324.2 L495.9 323.1 L497.9 322.7 L499.8 322.3 L501.2 321.2 L503.1 320.7 L504.5 319.5 L506.1 318.3 L508.0 317.4 L509.2 315.8 L510.9 314.2 L512.9 313.0 L514.8 312.1 M510.5 229.3 L510.3 231.2 L511.0 233.0 L511.4 234.9 L512.1 236.7 L512.2 238.6 L512.0 240.5 L512.3 242.3 L512.2 244.3 L513.4 246.0 L513.4 248.0 L514.2 249.8 L514.5 251.7 L514.2 253.6 L515.4 255.4 L515.1 257.3 L515.4 259.2 L515.1 261.1 L516.1 262.9 L516.1 264.8 L516.8 266.5 L517.5 268.3 L517.8 270.1 L517.8 272.0 L518.6 273.5 L518.6 275.3 L519.6 276.8 L519.8 278.5 L520.6 280.1 L521.6 281.7 L522.0 283.5 L522.6 285.3 L523.5 287.0 L523.1 289.1 L523.3 291.3 L523.5 293.4 L523.2 295.1 L521.9 296.4 L521.5 298.0 L520.9 299.8 L521.2 301.7 L521.3 303.6 L520.8 305.4 L519.1 306.5 L518.5 308.3 L516.9 309.3 L516.2 311.0 L514.8 312.1 M514.8 312.1 L516.9 313.2 L518.5 314.9 L520.2 316.5 L521.3 318.6 L521.7 320.5 L522.2 322.3 L524.2 322.3 L526.0 321.4 L528.0 320.1 L529.7 318.6 L531.4 317.4 L532.0 315.2 L533.5 313.9 L535.3 312.8 L537.2 312.1 L539.5 312.8 L541.9 313.0 L543.4 313.8 L545.0 314.2 L546.5 314.9 L548.3 316.0 L550.3 316.7 L553.1 317.6 L555.2 317.9 L557.3 318.5 L558.7 317.3 L560.5 317.0 L562.2 316.4 L564.4 316.2 L566.5 317.1 L567.8 318.2 L569.4 318.8 L570.7 319.9 L572.6 320.1 L574.4 320.5 L576.3 320.6 L578.1 320.1 L580.0 320.1 L581.9 319.9 L583.6 318.9 L585.8 319.5 L587.5 318.5 L589.4 317.9 L591.4 317.6 L593.1 316.4 L594.8 315.4 L596.9 315.6 L598.7 315.0 L601.5 315.0 M557.3 318.5 L557.4 320.3 L558.0 322.0 L558.5 323.8 L558.5 325.6 L559.6 327.0 L560.1 328.6 L560.4 330.3 L561.4 331.7 L561.3 333.5 L562.2 335.0 L562.1 337.0 L560.6 338.6 L560.4 340.6 L558.6 342.1 L556.6 343.4 L557.2 345.0 L557.8 346.5 L558.5 348.0 L559.7 349.3 L560.8 350.7 L562.2 351.8 L563.9 352.6 L565.8 353.1 L567.5 354.0 M558.5 325.6 L559.9 326.4 L561.6 326.4 L562.9 327.5 L564.4 328.1 L566.0 328.4 L567.4 329.4 L569.1 329.7 L570.4 330.9 L571.7 331.9 L573.5 332.1 L575.4 333.0 L577.4 333.8 L579.1 335.0 L580.6 335.9 L581.8 337.1 L583.5 337.5 M523.5 291.5 L525.2 291.6 L526.8 291.9 L528.2 292.9 L529.7 293.4 L531.7 293.4 L533.7 293.3 L535.6 292.8 L537.8 293.6 L539.8 294.7 L540.8 296.4 L542.8 297.0 L544.0 298.5 L546.8 299.6 L548.7 298.8 L550.3 297.5 L552.4 298.2 L554.5 297.7 L556.6 298.2 L558.3 297.0 L560.2 296.4 L562.2 296.1 L563.9 294.9 L566.0 294.7 L567.9 294.0 L570.0 293.7 L572.1 293.3 L573.5 295.4 L572.4 297.4 L570.7 298.9 L570.9 301.2 L572.1 303.1 L573.6 304.4 L574.9 305.9 L577.7 304.5 L578.9 303.2 L580.3 302.3 L581.9 301.7 L584.1 301.3 L586.1 300.3 L588.1 300.1 L589.7 298.5 L591.7 298.2 L593.3 296.8 L595.6 296.6 L597.3 295.4 L599.3 294.7 L601.5 294.7 L603.4 295.9 L605.7 296.1 M550.3 297.5 L550.5 295.6 L550.9 293.8 L551.0 291.9 L550.4 290.1 L550.4 288.1 L549.6 286.3 L549.9 284.2 L550.3 282.1 L550.4 280.3 L551.0 278.6 L552.4 276.5 L554.1 275.4 L555.2 273.6 L556.3 271.9 L558.0 270.8 L559.2 269.6 L559.4 267.7 L560.8 266.6 L561.7 264.8 L562.2 262.8 L563.0 261.0 L564.4 259.9 L565.0 258.2 L566.5 257.2 L568.4 257.3 L570.0 256.8 M551.0 278.6 L553.1 280.0 L554.9 280.2 L556.6 280.7 L558.9 280.5 L560.8 279.3 L563.1 278.7 L565.0 277.2 L566.5 276.6 L567.7 275.4 L569.3 275.0 L571.4 275.7 L570.7 278.6 L569.9 280.5 L568.6 282.1 L569.3 284.2 L571.4 284.3 L573.5 284.9 L575.6 285.5 L577.7 286.3 L580.5 284.9 L580.5 282.7 L581.2 280.7 L582.4 279.5 L584.0 279.0 L586.1 279.6 L588.2 279.8 L590.3 280.0 L592.1 280.0 L593.7 281.0 L595.6 280.3 L597.3 280.9 L599.4 281.1 L601.5 280.8 L603.6 281.4" fill="none" stroke="#1a1a1a" stroke-width="0.95" stroke-linejoin="round" stroke-linecap="round"/>
<path d="M412.1 410.4 L425.8 410.4 L425.8 418.4 L412.1 418.4 Z" fill="none" stroke="#111" stroke-width="1.1"/>
<path d="M42.6 295.7 L43.4 293.1 L45.0 291.7 L46.0 289.7 L46.9 287.6 L46.9 285.4 L48.4 283.9 L50.3 282.9 L51.8 281.3 L52.9 279.4 L53.7 277.3 L53.7 275.1 L54.1 273.3 L54.7 271.6 L55.5 270.0 L56.2 268.3 L57.3 266.8 L57.5 265.0 L58.4 262.8 L60.0 261.0 L62.1 259.9 L64.0 258.5 L65.6 257.7 L67.0 256.7 L68.6 255.8 L70.6 254.6 L72.4 253.3 L74.4 253.0 L76.0 251.4 L78.0 251.0 L79.8 251.1 L81.4 250.1 L83.2 250.2 L84.8 249.5 L86.5 249.4 L87.8 248.2 L89.6 248.5 L91.0 247.6 L92.9 248.1 L94.8 247.5 L96.4 248.4 L97.8 249.6 L100.6 249.9 L100.4 247.7 L101.3 245.7 L103.4 235.8 L105.5 226.0 L106.9 216.2 L107.8 206.0 L107.3 203.4 L106.3 201.9 L106.6 199.9 L105.5 198.4 L103.9 197.6 L103.6 195.6 L101.8 195.0 L101.0 193.5 L100.0 192.1 L98.6 191.0 L98.6 179.8 L109.8 179.3 L109.3 177.7 L109.4 176.1 L110.0 174.4 L109.8 172.8 L108.2 173.2 L106.6 172.8 L105.0 172.0 L103.4 172.1 L101.8 172.3 L101.8 162.3 L124.7 161.8 L126.0 159.8 L127.6 160.4 L129.3 160.7 L131.0 160.3 L132.1 158.8 L133.7 157.9 L135.5 157.4 L136.7 156.1 L138.4 158.6 L142.2 168.5 L143.6 169.7 L145.5 170.0 L146.6 171.5 L148.3 172.2 L149.6 173.5 L151.5 174.0 L153.5 174.3 L155.4 174.8 L157.1 176.0 L158.9 175.7 L160.0 174.1 L161.6 173.5 L161.9 175.6 L163.1 177.4 L163.5 175.6 L164.7 174.3 L167.0 172.8 L168.9 171.6 L170.9 170.4 L172.3 169.5 L174.0 169.3 L175.6 168.9 L177.0 167.8 L178.8 167.5 L180.2 166.5 L181.5 164.6 L183.4 163.4 L184.4 162.0 L184.9 160.3 L187.3 158.7 L189.3 158.0 L191.2 157.2 L192.7 156.0 L194.6 155.6 L193.5 154.1 L192.7 152.5 L191.1 151.7 L189.8 150.5 L188.0 150.2 L186.7 148.3 L185.7 146.3 L184.3 144.5 L183.4 142.4 L183.7 140.5 L183.3 138.7 L182.6 136.9 L181.6 134.8 L180.2 133.0 L178.6 131.7 L177.1 130.3 L176.0 128.5 L174.3 126.5 L175.9 127.6 L177.1 129.1 L179.3 128.9 L181.4 129.1 L183.4 129.9 L184.9 130.7 L186.5 131.5 L188.8 131.0 L191.2 130.7 L193.5 131.2 L195.8 131.5 L197.3 132.3 L198.9 133.0 L199.8 134.6 L201.3 135.4 L202.5 133.9 L203.4 132.3 L204.4 130.7 L206.2 130.2 L208.1 129.9 L209.8 129.1 L211.6 129.1 L213.1 128.4 L214.6 127.6 L216.1 126.8 L217.6 126.1 L219.1 125.4 L220.7 125.0 L222.3 124.5 L224.1 124.2 L225.3 122.8 L226.9 122.1 L228.5 121.4 L229.7 120.0 L230.8 118.5 L232.4 117.5 L233.4 115.3 L233.2 112.8 L235.5 111.8 L237.9 112.0 L239.8 112.4 L241.8 112.5 L241.8 114.3 L243.1 115.7 L243.3 117.5 L242.8 119.4 L242.6 121.4 L244.6 122.4 L246.4 123.7 L247.9 125.5 L248.8 127.6 L249.6 129.5 L249.6 131.5 L249.2 133.3 L247.6 134.4 L247.2 136.2 L246.3 137.6 L245.6 139.1 L246.0 141.0 L244.9 142.4 L244.4 144.4 L244.6 146.6 L244.1 148.6 L244.2 150.7 L244.6 152.7 L244.9 154.8 L245.7 156.3 L245.5 158.1 L247.2 159.3 L247.2 161.1 L248.6 162.6 L250.1 164.0 L251.9 165.0 L253.2 166.0 L254.4 167.2 L255.8 168.1 L257.2 169.1 L258.9 168.9 L260.5 167.4 L262.5 166.4 L264.4 165.6 L266.2 164.6 L268.1 164.6 L269.9 163.8 L271.8 163.6 L273.8 163.4 L275.6 162.7 L277.4 161.6 L279.3 160.8 L281.2 159.9 L283.0 159.0 L284.8 159.4 L286.7 159.8 L288.6 159.9 L290.5 159.6 L292.4 159.8 L294.3 159.5 L296.2 159.7 L298.1 159.4 L299.9 159.9 L300.3 158.1 L300.2 156.1 L300.8 154.3 L301.7 152.1 L303.6 152.4 L305.4 151.7 L307.3 151.5 L309.2 151.6 L311.1 151.2 L312.9 151.0 L314.8 150.9 L317.6 152.1 L319.5 153.4 L321.2 153.9 L322.8 154.6 L324.2 155.8 L326.2 155.9 L327.9 155.1 L329.8 154.7 L331.7 154.3 L333.5 153.9 L335.3 154.6 L337.2 155.2 L339.0 155.9 L341.1 155.6 L342.9 156.2 L344.6 154.9 L346.6 154.3 L347.8 153.1 L348.4 151.5 L349.5 150.2 L350.3 148.7 L351.4 147.4 L352.2 145.9 L353.0 144.4 L352.9 142.5 L354.1 141.2 L354.9 139.7 L356.3 138.6 L357.2 137.2 L357.8 135.6 L358.6 133.7 L359.7 132.0 L361.2 130.6 L361.9 128.8 L362.7 127.1 L363.9 125.6 L365.0 124.0 L367.8 125.0 L368.9 127.1 L370.6 128.7 L371.2 130.6 L371.9 132.4 L372.4 134.3 L373.3 135.9 L373.3 137.6 L373.0 139.5 L373.7 141.1 L374.3 142.7 L377.1 153.0 L378.5 154.8 L379.9 156.7 L381.8 158.1 L383.6 159.5 L385.3 161.2 L387.4 162.3 L388.1 164.3 L389.3 166.1 L389.4 168.0 L388.4 169.8 L388.3 171.7 L387.8 173.3 L387.0 174.8 L386.4 176.4 L387.0 178.2 L387.2 180.1 L387.4 182.0 L389.4 182.8 L391.2 183.7 L393.0 184.8 L394.7 185.2 L396.0 186.4 L397.2 187.6 L398.6 188.5 L400.6 188.6 L402.5 189.4 L404.2 190.4 L406.0 191.0 L408.0 190.7 L409.8 191.3 L410.9 193.1 L411.7 195.0 L413.6 195.2 L415.3 196.3 L417.3 196.4 L419.3 196.3 L421.0 197.3 L422.8 197.9 L424.8 197.9 L426.7 198.0 L428.5 198.7 L430.3 199.6 L432.2 199.7 L433.7 200.4 L435.3 200.7 L436.9 200.9 L438.2 201.9 L439.7 202.5 L441.3 202.9 L442.6 203.9 L444.3 203.9 L445.7 204.6 L447.2 205.3 L448.4 206.4 L449.6 207.5 L451.2 208.0 L452.5 208.9 L453.7 210.0 L455.7 208.7 L457.5 207.2 L460.3 206.3 L461.2 207.9 L462.8 208.7 L464.0 209.9 L464.2 211.8 L465.4 213.0 L466.5 214.3 L467.1 216.1 L467.3 218.1 L468.1 219.9 L468.4 221.8 L470.1 222.3 L471.2 223.6 L473.2 223.0 L475.0 221.8 L476.8 220.5 L478.7 219.5 L480.6 220.3 L482.4 221.0 L484.3 221.8 L486.0 222.9 L487.9 223.3 L489.9 223.6 L491.7 223.9 L493.0 225.2 L494.6 225.9 L497.0 226.1 L499.3 226.4 L501.2 226.7 L503.0 227.5 L504.9 227.4 L506.8 228.3 L508.6 229.3 L510.5 229.3 L512.3 229.8 L514.2 229.3 L516.1 229.0 L517.9 228.8 L519.8 228.6 L521.7 228.3 L523.6 228.7 L525.5 228.5 L527.3 228.6 L529.2 228.3 L531.1 228.8 L533.1 229.0 L534.8 230.2 L536.2 231.3 L537.7 232.1 L539.1 233.3 L540.5 234.2 L542.2 234.9 L543.9 235.4 L545.4 236.5 L547.0 237.2 L548.0 238.9 L549.7 239.5 L551.4 240.1 L552.7 241.1 L553.6 242.7 L555.2 243.5 L556.2 244.8 L557.7 245.6 L558.2 247.3 L559.4 248.4 L560.6 250.0 L562.2 251.2 L563.6 252.6 L565.3 253.1 L566.3 254.7 L567.9 255.4 L569.7 256.4 L571.4 257.5 L573.0 258.3 L574.4 259.4 L576.3 259.6 L578.0 260.2 L579.8 260.4 L581.6 259.7 L583.3 260.3 L585.1 260.2 L586.8 260.5 L588.6 260.0 L590.3 260.7 L592.0 261.8 L594.1 261.6 L595.9 262.4 L597.5 264.0 L598.7 265.9 L599.6 267.4 L600.4 269.1 L600.8 270.8 L600.8 272.8 L601.7 274.6 L602.2 276.5 L602.7 278.4 L603.2 280.2 L603.6 282.1 L604.6 283.8 L604.8 285.8 L605.0 287.7 L604.8 289.6 L605.1 291.5 L605.7 293.3 L605.3 295.2 L606.0 297.0 L605.7 298.9 L605.8 300.8 L605.8 302.7 L605.0 304.5 L604.5 306.4 L604.2 308.3 L603.6 310.1 L602.9 311.8 L602.2 313.4 L601.5 315.0 L600.5 316.6 L599.8 318.3 L598.7 319.9 L597.2 321.1 L596.6 323.0 L594.8 323.9 L594.0 325.6 L592.8 326.9 L592.2 328.6 L590.8 329.6 L589.5 330.8 L588.4 332.1 L581.9 338.7 L580.6 339.7 L579.2 340.5 L578.1 341.7 L576.8 342.7 L575.3 343.4 L573.9 344.5 L573.2 346.2 L571.7 347.1 L570.5 348.4 L569.7 349.9 L568.7 351.4 L567.9 353.1 L566.9 354.6 L565.5 356.2 L565.1 358.4 L564.1 360.2 L562.8 361.3 L562.7 363.3 L561.4 364.4 L560.4 365.8 L558.9 367.1 L558.0 369.0 L555.9 369.7 L554.8 371.4 L553.2 373.2 L551.0 374.2 L549.1 375.0 L547.3 376.1 L546.7 378.1 L545.4 379.8 L545.0 381.7 L545.5 383.6 L545.3 385.4 L545.8 387.3 L545.6 389.2 L545.2 391.0 L545.0 392.9 L545.0 394.8 L545.1 396.7 L545.1 398.5 L544.2 400.3 L544.5 402.2 L545.1 404.0 L544.5 406.0 L545.5 407.8 L545.4 409.7 L546.1 411.5 L546.4 413.4 L545.8 415.4 L546.4 417.2 L545.6 419.0 L546.0 421.0 L545.5 422.8 L545.4 424.7 L545.2 426.6 L544.0 428.3 L543.8 430.2 L543.6 432.1 L543.4 434.3 L542.4 436.2 L542.8 438.3 L541.9 440.4 L542.0 442.5 L540.6 444.5 L538.5 445.6 L537.1 446.9 L536.6 448.8 L535.4 450.2 L535.5 452.3 L534.8 454.4 L534.6 456.5 L535.0 458.4 L534.9 460.4 L535.6 462.3 L535.4 464.3 L534.4 465.7 L534.6 467.4 L533.9 468.9 L532.4 470.3 L531.5 472.1 L530.7 473.9 L529.2 475.2 L528.1 476.6 L527.6 478.3 L526.0 480.0 L525.3 482.2 L523.8 483.8 L522.2 485.3 L521.0 487.2 L519.1 488.4 L518.4 490.4 L517.5 492.3 L516.9 494.6 L516.7 497.0 L516.9 499.4 L516.4 501.7 L515.7 503.2 L515.2 504.8 L513.8 505.8 L512.1 505.8 L510.5 506.3 L508.8 507.3 L507.4 508.7 L505.9 509.9 L504.3 511.0 L503.3 512.5 L502.7 514.1 L502.7 515.8 L501.9 517.2 L500.2 516.8 L498.5 517.7 L496.8 516.7 L495.1 516.6 L493.4 517.2 L491.4 516.7 L489.5 517.3 L487.6 517.7 L485.6 517.5 L483.5 517.8 L481.4 517.5 L479.3 518.0 L477.2 518.3 L475.1 518.0 L473.1 518.8 L471.4 519.4 L469.6 519.0 L467.9 519.0 L465.8 519.3 L464.1 520.5 L462.2 522.3 L460.3 523.1 L458.5 524.2 L457.2 525.4 L456.4 527.0 L454.8 527.9 L455.7 530.7 L453.7 530.7 L452.0 529.8 L449.6 529.9 L447.3 529.4 L445.3 529.4 L443.5 529.9 L441.7 530.7 L440.0 532.0 L437.7 532.2 L436.1 533.6 L435.0 535.0 L433.2 535.4 L431.6 535.9 L430.5 537.3 L429.2 538.4 L427.4 538.7 L426.2 539.9 L424.9 541.0 L423.8 542.4 L422.2 543.1 L420.7 543.9 L419.3 544.8 L418.3 546.2 L416.7 546.9 L416.0 548.5 L414.6 549.4 L412.1 550.5 L410.9 552.2 L410.3 554.2 L409.6 556.2 L408.4 557.9 L408.6 559.9 L407.7 561.7 L407.5 563.6 L408.0 565.5 L407.4 567.3 L407.2 569.1 L407.5 571.0 L407.6 572.9 L408.0 574.7 L408.7 576.6 L408.4 578.5 L408.8 580.4 L409.3 582.2 L409.3 584.2 L408.4 586.0 L407.9 587.8 L408.2 589.8 L407.5 591.6 L406.5 593.4 L405.8 595.4 L404.7 597.2 L403.6 598.9 L402.0 600.2 L400.9 601.9 L399.8 603.4 L398.4 604.5 L396.4 604.9 L395.3 606.5 L394.2 607.9 L392.5 608.7 L391.6 610.3 L389.8 611.9 L388.8 614.0 L387.6 615.5 L386.4 617.0 L384.0 619.0 L383.4 620.7 L382.6 622.2 L380.8 623.2 L380.3 624.9 L379.8 626.7 L378.4 628.0 L377.5 629.5 L376.2 631.0 L375.3 632.9 L373.7 634.2 L372.2 635.5 L370.9 637.0 L369.1 637.9 L367.2 639.3 L365.3 640.7 L364.1 642.0 L362.9 643.3 L361.6 644.5 L360.5 646.6 L358.8 648.2 L358.0 649.8 L357.2 651.5 L356.0 652.9 L355.6 654.6 L354.8 656.0 L353.3 657.2 L353.0 658.9 L352.2 660.4 L350.7 661.4 L350.4 663.4 L348.4 664.0 L347.7 665.6 L346.6 666.9 L345.0 667.8 L343.7 669.2 L342.3 670.3 L341.0 671.6 L339.2 672.4 L337.3 672.5 L338.2 669.7 L339.8 668.0 L341.0 666.0 L342.0 664.4 L343.3 663.3 L344.8 662.2 L345.6 660.6 L347.2 659.6 L348.5 658.5 L348.7 656.9 L348.7 655.2 L349.6 653.7 L349.4 652.0 L347.6 651.0 L346.6 652.8 L344.8 653.8 L343.3 655.1 L342.0 656.6 L340.0 656.0 L338.2 654.8 L336.4 653.3 L334.5 652.0 L333.6 650.6 L332.3 649.5 L330.6 648.8 L329.8 647.3 L328.4 646.3 L327.4 644.7 L326.1 643.6 L325.2 641.9 L323.2 641.5 L322.3 639.8 L320.0 639.2 L317.7 638.9 L316.2 638.1 L314.7 637.3 L313.0 637.0 L311.6 635.9 L310.8 634.3 L309.3 633.3 L307.4 631.9 L305.5 630.5 L303.1 630.5 L300.8 631.4 L299.1 630.2 L298.7 627.9 L297.1 626.7 L295.5 625.5 L293.9 624.3 L292.4 623.0 L290.4 622.8 L288.6 622.0 L286.8 621.1 L284.9 621.2 L283.0 621.6 L281.2 622.1 L278.4 621.1 L279.5 619.4 L281.2 618.3 L283.0 616.7 L285.0 615.5 L285.9 614.0 L287.2 612.8 L288.7 611.8 L289.7 610.3 L291.0 609.1 L292.4 608.0 L294.1 606.8 L295.4 605.3 L296.2 603.4 L297.7 602.0 L298.6 600.3 L299.9 598.7 L301.1 597.5 L302.5 596.6 L303.8 595.5 L304.6 594.0 L306.4 592.9 L308.0 591.5 L309.5 590.0 L311.2 589.1 L313.1 588.8 L314.4 587.6 L315.9 586.6 L316.8 585.0 L318.4 584.4 L319.3 582.7 L321.1 582.4 L322.4 581.3 L324.2 580.2 L326.0 579.1 L328.0 578.5 L330.0 578.4 L331.8 577.4 L333.6 576.6 L333.9 574.7 L333.2 572.9 L333.6 571.0 L334.0 569.4 L334.1 567.8 L334.1 566.1 L333.6 564.5 L333.4 562.1 L332.7 559.8 L331.6 557.7 L329.9 556.1 L328.1 555.2 L326.2 555.1 L323.9 555.0 L321.5 555.1 L322.1 553.5 L323.1 552.2 L323.4 550.5 L324.0 548.7 L324.4 546.8 L324.3 544.9 L324.3 543.0 L325.3 541.2 L325.0 539.3 L325.2 537.4 L326.1 535.6 L325.4 533.6 L326.2 531.8 L324.3 531.2 L322.4 531.8 L320.6 531.3 L318.6 531.8 L316.8 531.4 L315.0 530.8 L313.0 531.3 L311.2 530.8 L309.5 529.7 L308.4 528.0 L308.1 526.2 L307.6 524.3 L307.7 522.5 L307.5 520.6 L307.5 518.6 L306.8 516.8 L306.3 514.9 L305.6 513.1 L304.6 511.6 L304.0 509.8 L302.8 508.4 L300.0 507.5 L298.5 508.4 L297.1 507.4 L295.4 506.9 L293.8 506.5 L292.1 506.2 L290.5 506.6 L288.9 507.4 L287.3 507.5 L285.4 507.7 L283.6 506.8 L281.7 506.4 L279.8 506.5 L277.9 506.4 L276.1 505.8 L274.2 505.6 L274.1 503.2 L273.3 500.9 L273.7 499.0 L272.7 497.2 L273.3 495.4 L273.3 493.5 L272.7 491.6 L272.8 489.8 L273.7 487.9 L273.3 486.0 L272.9 484.2 L272.8 482.2 L272.3 480.4 L271.8 478.5 L271.4 476.6 L272.3 473.8 L271.4 471.0 L272.2 469.0 L273.0 467.1 L274.2 465.4 L274.7 463.5 L275.9 461.8 L276.1 459.8 L276.5 458.0 L276.5 456.0 L277.0 454.2 L277.2 452.2 L278.0 450.4 L278.9 448.6 L278.6 446.7 L277.9 444.9 L276.9 443.5 L276.1 442.1 L275.3 440.6 L274.2 439.3 L272.4 438.4 L270.5 438.3 L268.8 437.2 L267.7 435.5 L266.9 433.5 L265.8 431.8 L265.2 430.1 L266.2 428.5 L265.4 426.9 L265.8 425.2 L266.5 423.5 L267.7 422.1 L257.4 422.1 L248.0 421.5 L246.5 420.7 L244.7 421.2 L243.1 421.2 L241.5 420.6 L241.7 418.7 L241.0 416.8 L240.6 415.0 L240.7 413.0 L239.8 411.2 L239.6 409.3 L238.8 407.9 L238.0 406.5 L236.0 404.5 L237.9 403.4 L239.0 401.5 L238.1 399.9 L237.2 398.4 L237.8 396.5 L236.8 394.7 L237.2 392.8 L237.3 390.9 L236.2 389.1 L236.3 387.2 L234.9 385.8 L233.5 384.4 L231.4 384.3 L229.6 383.5 L227.9 382.5 L226.0 382.0 L224.1 382.6 L222.2 382.5 L220.4 381.8 L218.4 382.2 L216.6 381.6 L215.2 380.5 L213.8 379.5 L212.9 377.9 L211.1 376.9 L209.4 375.6 L207.3 375.0 L205.4 374.1 L203.5 373.3 L201.7 372.2 L200.1 370.8 L198.2 369.9 L196.1 369.4 L194.3 368.6 L192.2 368.7 L190.5 367.6 L188.7 367.1 L186.8 367.0 L184.9 366.6 L183.2 365.5 L181.1 365.6 L179.3 364.8 L177.8 363.7 L176.2 362.8 L174.6 362.0 L172.6 360.7 L170.8 359.2 L169.9 357.3 L169.1 355.4 L168.0 353.6 L168.2 351.6 L167.4 349.8 L167.1 347.9 L166.7 346.1 L167.2 344.1 L165.9 342.4 L166.2 340.5 L166.6 338.6 L166.4 336.8 L166.3 334.9 L166.2 333.0 L165.5 331.5 L165.2 329.8 L164.3 328.3 L162.2 327.6 L160.0 327.8 L157.7 327.8 L155.4 328.3 L153.2 328.3 L151.1 328.9 L149.0 329.7 L146.7 329.4 L145.4 330.9 L144.1 332.3 L142.3 333.3 L140.3 334.5 L139.1 336.5 L137.4 336.4 L135.9 337.7 L134.2 337.7 L132.5 338.5 L130.8 339.4 L129.0 340.6 L127.4 342.0 L126.1 343.9 L124.0 345.0 L122.3 345.7 L120.4 345.9 L118.8 346.8 L117.2 345.5 L115.4 344.5 L113.7 345.0 L111.9 344.6 L110.3 345.4 L108.5 345.4 L106.8 345.1 L105.1 345.0 L103.5 344.2 L101.7 344.5 L99.9 344.6 L98.2 344.7 L96.5 345.4 L94.8 345.2 L93.1 345.5 L91.4 345.4 L91.9 343.7 L91.5 341.9 L91.4 340.2 L91.1 338.5 L90.8 336.8 L90.7 335.1 L91.2 333.4 L91.5 331.7 L91.1 330.0 L91.5 328.4 L91.1 326.7 L90.9 325.1 L91.4 323.5 L89.7 324.1 L88.0 324.8 L86.5 325.7 L86.0 327.4 L84.6 328.3 L82.7 328.9 L81.1 330.0 L79.4 330.5 L77.7 330.4 L76.0 330.8 L74.3 330.3 L72.6 330.7 L70.8 330.8 L69.1 330.8 L68.3 328.3 L67.4 326.2 L65.7 324.8 L64.2 323.5 L62.3 323.1 L60.5 323.2 L58.8 322.8 L57.1 322.3 L55.5 321.3 L53.7 321.4 L54.2 319.5 L55.4 318.0 L54.4 316.4 L53.7 314.6 L52.9 312.8 L51.3 311.9 L50.3 310.3 L48.8 308.7 L47.7 306.8 L46.7 304.7 L46.0 302.6 L45.4 300.5 L45.1 298.3 L44.3 296.6 L42.6 295.7 Z" fill="none" stroke="#111" stroke-width="1.15" stroke-linejoin="round"/>
<path d="M418.0 196.3 L419.4 196.3 L420.8 196.5 L421.9 197.9 L423.5 197.5 L424.8 197.9 L425.9 198.8 L427.3 198.9 L428.5 199.5 L430.0 199.1 L431.2 199.8 L433.0 199.8 L434.3 201.3 L436.0 201.5 L437.5 202.0 L439.0 202.7 L440.5 203.1 L441.6 204.0 L442.8 204.7 L444.4 204.6 L445.6 205.4 L446.7 206.2 L447.7 207.5 L449.2 207.6 L450.6 207.9 L451.6 209.0 L453.0 209.5 L454.4 208.4 L456.3 208.4 L457.6 207.2 L459.3 206.8 L460.7 207.8 L461.1 209.3 L462.2 210.2 L463.3 211.2 L463.9 212.5 L464.1 214.0 L465.8 214.6 L466.6 215.7 L467.0 217.1 L468.3 218.0 L468.3 219.5" fill="none" stroke="#000" stroke-width="2.2" stroke-linejoin="round"/>
<path d="M368.2 619.2 L369.8 623.9 L368.2 628.5 L365.1 633.2 L362.0 637.9 L358.9 642.5 L356.5 646.4 L357.3 648.0 L363.5 642.5 L369.8 636.3 L374.4 630.1 L377.6 625.4 L379.1 621.5 L376.0 622.3 L372.9 623.9 L370.6 620.8 L369.0 618.4 Z" fill="#fff" stroke="#111" stroke-width="1.3" stroke-linejoin="round"/>
<path d="M462.4 510 L464.9 511.2 L468.7 512.4 L469.9 514.9 L467.4 516.8 L464.9 518.1 L462.4 521.2" fill="none" stroke="#111" stroke-width="1"/>
<path d="M461.5 522 L464.5 520.2 L467.5 519.5 L470.5 520 L473.5 519 L476.5 518.3" fill="none" stroke="#000" stroke-width="2"/>
<circle cx="485.5" cy="515.2" r="1.3" fill="#000"/>
<path d="M453 530.2 L455.5 531.5 L456.5 530" fill="none" stroke="#000" stroke-width="1.6"/>
<rect x="27.4" y="23.5" width="590.4" height="721.7" fill="none" stroke="#111" stroke-width="1.4"/>
<path d="M96.6 23.5 V18.2 M96.6 745.2 V750.6 M240.5 23.5 V18.2 M240.5 745.2 V750.6 M384.2 23.5 V18.2 M384.2 745.2 V750.6 M528.0 23.5 V18.2 M528.0 745.2 V750.6 M27.4 51.0 H22.2 M617.8 51.0 H623 M27.4 194.8 H22.2 M617.8 194.8 H623 M27.4 338.2 H22.2 M617.8 338.2 H623 M27.4 482.2 H22.2 M617.8 482.2 H623 M27.4 626.0 H22.2 M617.8 626.0 H623" stroke="#111" stroke-width="1.2" fill="none"/>
<text x="96.8" y="762.7" text-anchor="middle" font-family="Liberation Sans, Arial, sans-serif" font-weight="bold" font-size="12.5" fill="#111" textLength="53.6" lengthAdjust="spacingAndGlyphs">70°0'0&quot;W</text>
<text x="240.5" y="762.7" text-anchor="middle" font-family="Liberation Sans, Arial, sans-serif" font-weight="bold" font-size="12.5" fill="#111" textLength="53.6" lengthAdjust="spacingAndGlyphs">60°0'0&quot;W</text>
<text x="384.2" y="762.7" text-anchor="middle" font-family="Liberation Sans, Arial, sans-serif" font-weight="bold" font-size="12.5" fill="#111" textLength="53.6" lengthAdjust="spacingAndGlyphs">50°0'0&quot;W</text>
<text x="528.0" y="762.7" text-anchor="middle" font-family="Liberation Sans, Arial, sans-serif" font-weight="bold" font-size="12.5" fill="#111" textLength="53.6" lengthAdjust="spacingAndGlyphs">40°0'0&quot;W</text>
<text transform="translate(19.6 51.0) rotate(-90)" x="0" y="0" text-anchor="middle" font-family="Liberation Sans, Arial, sans-serif" font-weight="bold" font-size="12.5" fill="#111" textLength="49.8" lengthAdjust="spacingAndGlyphs">10°0'0&quot;N</text>
<text transform="translate(19.6 194.8) rotate(-90)" x="0" y="0" text-anchor="middle" font-family="Liberation Sans, Arial, sans-serif" font-weight="bold" font-size="12.5" fill="#111" textLength="34.0" lengthAdjust="spacingAndGlyphs">0°0'0&quot;</text>
<text transform="translate(19.6 338.2) rotate(-90)" x="0" y="0" text-anchor="middle" font-family="Liberation Sans, Arial, sans-serif" font-weight="bold" font-size="12.5" fill="#111" textLength="49.0" lengthAdjust="spacingAndGlyphs">10°0'0&quot;S</text>
<text transform="translate(19.6 482.2) rotate(-90)" x="0" y="0" text-anchor="middle" font-family="Liberation Sans, Arial, sans-serif" font-weight="bold" font-size="12.5" fill="#111" textLength="49.0" lengthAdjust="spacingAndGlyphs">20°0'0&quot;S</text>
<text transform="translate(19.6 626.0) rotate(-90)" x="0" y="0" text-anchor="middle" font-family="Liberation Sans, Arial, sans-serif" font-weight="bold" font-size="12.5" fill="#111" textLength="49.0" lengthAdjust="spacingAndGlyphs">30°0'0&quot;S</text>
<text x="192.6" y="62.5" font-family="DejaVu Sans, Verdana, sans-serif" font-weight="bold" font-size="25.5" fill="#000" textLength="252.8" lengthAdjust="spacingAndGlyphs">Previsão de risco</text>
<text x="245.0" y="91.5" font-family="DejaVu Sans, Verdana, sans-serif" font-weight="bold" font-size="25.5" fill="#000" textLength="169.0" lengthAdjust="spacingAndGlyphs">Hidrológico</text>
<rect x="74.9" y="507.3" width="26.8" height="19.8" fill="#ff0000" stroke="#222" stroke-width="1.3"/>
<text x="110.6" y="521.0" font-family="Liberation Sans, Arial, sans-serif" font-weight="bold" font-size="12.6" fill="#111" textLength="61.8" lengthAdjust="spacingAndGlyphs">Muito Alto</text>
<rect x="74.9" y="538.1" width="26.8" height="19.8" fill="#f7931e" stroke="#222" stroke-width="1.3"/>
<text x="110.6" y="551.8" font-family="Liberation Sans, Arial, sans-serif" font-weight="bold" font-size="12.6" fill="#111" textLength="22.5" lengthAdjust="spacingAndGlyphs">Alto</text>
<rect x="74.9" y="568.4" width="26.8" height="19.8" fill="#ffff00" stroke="#222" stroke-width="1.3"/>
<text x="110.6" y="582.1" font-family="Liberation Sans, Arial, sans-serif" font-weight="bold" font-size="12.6" fill="#111" textLength="60.0" lengthAdjust="spacingAndGlyphs">Moderado</text>
<rect x="74.9" y="598.2" width="26.8" height="19.8" fill="#ffffff" stroke="#222" stroke-width="1.3"/>
<text x="110.6" y="611.9" font-family="Liberation Sans, Arial, sans-serif" font-weight="bold" font-size="12.6" fill="#111" textLength="31.5" lengthAdjust="spacingAndGlyphs">Baixo</text>
<text x="46.6" y="686.4" font-family="Liberation Sans, Arial, sans-serif" font-weight="bold" font-size="12.9" fill="#111" textLength="169.0" lengthAdjust="spacingAndGlyphs">Válida para o dia 27/02/2022</text>
<rect x="397.5" y="678.1" width="155.6" height="9.9" fill="#000"/>
<rect x="417.7" y="679.1" width="18.7" height="7.9" fill="#fff"/>
<rect x="456.3" y="679.1" width="18.7" height="7.9" fill="#fff"/>
<text x="397.6" y="672.6" text-anchor="middle" font-family="Liberation Sans, Arial, sans-serif" font-size="10.8" fill="#111">600</text>
<text x="436.2" y="672.6" text-anchor="middle" font-family="Liberation Sans, Arial, sans-serif" font-size="10.8" fill="#111">300</text>
<text x="474.8" y="672.6" text-anchor="middle" font-family="Liberation Sans, Arial, sans-serif" font-size="10.8" fill="#111">0</text>
<text x="544.2" y="672.6" font-family="Liberation Sans, Arial, sans-serif" font-size="10.8" fill="#111">600 km</text>
<text x="455.9" y="703.6" font-family="Liberation Sans, Arial, sans-serif" font-size="10.8" fill="#111">1:20000000</text>
<text x="354.7" y="728.1" font-family="Liberation Sans, Arial, sans-serif" font-size="12.6" fill="#111" textLength="258" lengthAdjust="spacingAndGlyphs">Sistemas de Coordenadas: GCS WGS - 1984</text>
<text x="427" y="742.1" font-family="Liberation Sans, Arial, sans-serif" font-size="12.6" fill="#111" textLength="114.2" lengthAdjust="spacingAndGlyphs">Datum: WGS - 1984</text>
<path d="M485.10 605.70 L481.50 617.20 L485.10 619.20 Z M506.10 626.70 L494.60 623.10 L492.60 626.70 Z M485.10 647.70 L488.70 636.20 L485.10 634.20 Z M464.10 626.70 L475.60 630.30 L477.60 626.70 Z" fill="#fff" stroke="#111" stroke-width="0.8" stroke-linejoin="miter"/>
<path d="M485.10 605.70 L488.70 617.20 L485.10 619.20 Z M506.10 626.70 L494.60 630.30 L492.60 626.70 Z M485.10 647.70 L481.50 636.20 L485.10 634.20 Z M464.10 626.70 L475.60 623.10 L477.60 626.70 Z" fill="#111" stroke="#111" stroke-width="0.8"/>
<circle cx="485.1" cy="626.7" r="8.2" fill="#fff" stroke="#111" stroke-width="1.1"/>
<path d="M485.1 626.7 V619.8 A6.9 6.9 0 0 1 492.0 626.7 Z M485.1 626.7 V633.6 A6.9 6.9 0 0 1 478.2 626.7 Z" fill="#111"/>
<text x="485.1" y="603.2" font-family="Liberation Serif, Times New Roman, serif" font-size="9.5" fill="#111" text-anchor="middle">N</text>
<text x="485.1" y="657.2" font-family="Liberation Serif, Times New Roman, serif" font-size="9.5" fill="#111" text-anchor="middle">S</text>
<text x="458.9" y="630.1" font-family="Liberation Serif, Times New Roman, serif" font-size="9.5" fill="#111" text-anchor="middle">W</text>
<text x="510.8" y="630.1" font-family="Liberation Serif, Times New Roman, serif" font-size="9.5" fill="#111" text-anchor="middle">E</text>
<defs>
<clipPath id="eyeclip"><path d="M491.7 78.2 C500 63.5 517 50.6 536.5 50.2 C555.5 50 570 62 579.2 78.7 C570 93.5 555.5 106.6 537 107.6 C517.5 108.2 500 94 491.7 78.2 Z"/></clipPath>
<clipPath id="irisclip"><circle cx="535.2" cy="80.5" r="24.5"/></clipPath>
<clipPath id="lclip"><path d="M480 86.3 L491.7 78.2 L513.5 62.3 L545 40 L600 40 L600 120 L480 120 Z"/></clipPath>
<clipPath id="coreclip"><circle cx="537.3" cy="79.5" r="13"/><rect x="540" y="60" width="25" height="40"/></clipPath>
<mask id="mR"><rect x="480" y="40" width="120" height="80" fill="#000"/><circle cx="541.4" cy="76.3" r="24.5" fill="#fff"/><circle cx="531.2" cy="79.4" r="29.2" fill="#000"/></mask>
<linearGradient id="blueg" x1="0" y1="0" x2="0" y2="1"><stop offset="0" stop-color="#1b5fc4"/><stop offset="1" stop-color="#2d8fe3"/></linearGradient>
<linearGradient id="irisg" x1="0" y1="0" x2="0" y2="1">
<stop offset="0" stop-color="#0f3676"/><stop offset="0.43" stop-color="#123b7b"/><stop offset="0.45" stop-color="#3db2f2"/><stop offset="1" stop-color="#2f97e9"/></linearGradient>
<linearGradient id="cg" x1="0.2" y1="0" x2="0.6" y2="1">
<stop offset="0" stop-color="#f4f5f7"/><stop offset="0.5" stop-color="#d3d6db"/><stop offset="1" stop-color="#a9afb8"/></linearGradient>
<linearGradient id="og" x1="0" y1="0" x2="1" y2="0"><stop offset="0" stop-color="#f07f1e"/><stop offset="1" stop-color="#f7b21c"/></linearGradient>
</defs>
<g clip-path="url(#eyeclip)">
<rect x="488" y="46" width="95" height="66" fill="#113a78"/>
<path d="M486 80 L491.7 78.2 C497 70 505 65 513 62.5 L535 80 L555 97 L579.2 78.7 L585 80 L585 112 L486 112 Z" fill="url(#blueg)"/>
<path d="M491.7 78.2 C497 70 505 65.2 513.5 62.3 M579.2 78.7 C572 86 563 92 554.6 97" fill="none" stroke="#fff" stroke-width="0.9"/>
<circle cx="528" cy="82" r="24.6" fill="#fff" clip-path="url(#lclip)"/>
<rect x="480" y="40" width="120" height="80" fill="#fff" mask="url(#mR)"/>
</g>
<circle cx="535.2" cy="80.5" r="24.5" fill="url(#irisg)"/>
<g clip-path="url(#irisclip)"><g clip-path="url(#coreclip)">
<rect x="520" y="60" width="45" height="40" fill="#3aa6ee"/>
<path d="M520 60 L565 60 L565 69 C561 69 556 70 552 72.5 C547 76 541 80.5 534 81.8 C530 82 527 81.5 520 81 Z" fill="#123a79"/>
<path d="M520 81 C527 81.5 530 82 534 81.8 C541 80.5 547 76 552 72.5 C556 70 561 69 565 69 L565 78.3 C558 78.5 552 79.2 545 80.5 C540 81.5 535 82.5 530 82.4 C527 82.2 524 81.8 520 81.4 Z" fill="url(#og)"/>
<path d="M520 81.4 C524 81.8 527 82.2 530 82.4 C535 82.5 540 81.5 545 80.5 C552 79.2 558 78.5 565 78.3 L565 86.2 C558 86.2 552 86.3 545 86.2 C538 86 532 86 527 85.3 C524.5 85 522 84.5 520 84 Z" fill="#4a9e2c"/>
</g></g>
<path d="M556.5 71 A21 21 0 1 0 557.3 86 L548.1 86 A12.6 12.6 0 1 1 546.6 71 Z" fill="url(#cg)"/>
<text x="480.9" y="127.3" font-family="DejaVu Sans, Liberation Sans, sans-serif" font-size="22" fill="#1b3268" textLength="110.9" lengthAdjust="spacingAndGlyphs">Cemaden</text>
</svg></body></html>
